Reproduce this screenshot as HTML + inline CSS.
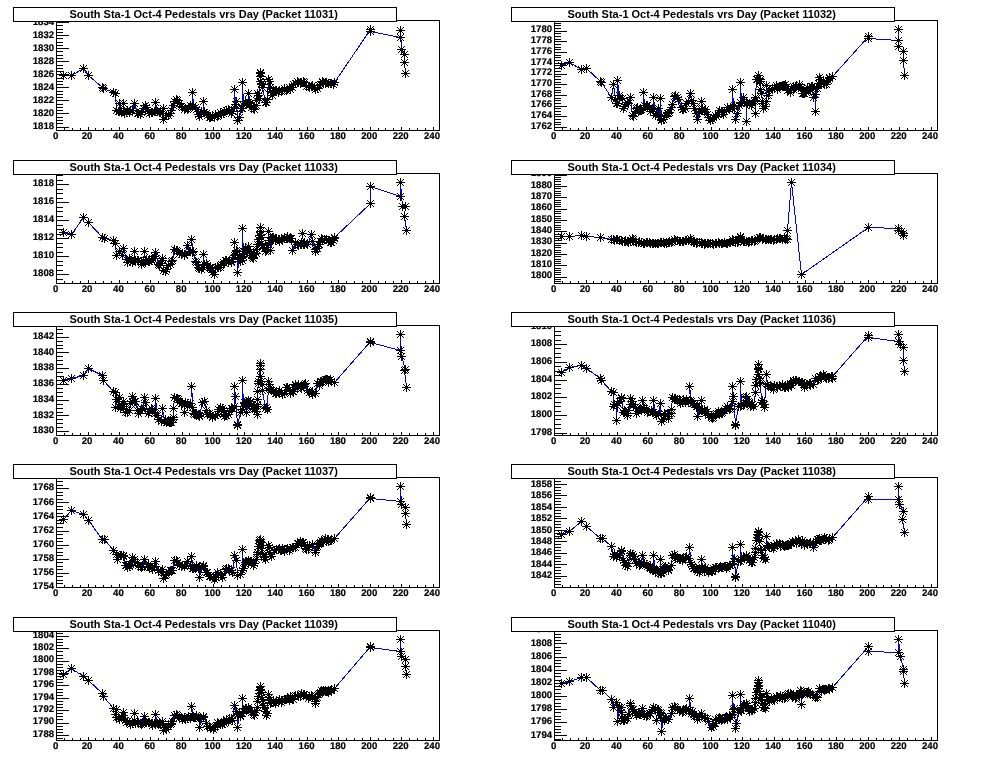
<!DOCTYPE html>
<html lang="en"><head><meta charset="utf-8"><title>South Sta-1 Oct-4 Pedestals vrs Day</title>
<style>
html,body{margin:0;padding:0;background:#fff;}
body{width:996px;height:762px;overflow:hidden;}
svg{display:block;will-change:transform;}
text{font-family:"Liberation Sans",Arial,Helvetica,sans-serif;font-weight:bold;fill:#000;}
.l{font-size:9.6px;text-rendering:geometricPrecision;stroke:#000;stroke-width:0.2px;}
.t{font-size:11.0px;}
</style></head><body>
<svg width="996" height="762" viewBox="0 0 996 762">
<defs><path id="m" d="M-4.5 -0.5h9v1h-9zM-0.5 -4.5h1v9h-1zM-1.5 -1.5h1v1h-1zM-1.5 0.5h1v1h-1zM0.5 -1.5h1v1h-1zM0.5 0.5h1v1h-1zM-2.5 -2.5h1v1h-1zM-2.5 1.5h1v1h-1zM1.5 -2.5h1v1h-1zM1.5 1.5h1v1h-1zM-3.5 -3.5h1v1h-1zM-3.5 2.5h1v1h-1zM2.5 -3.5h1v1h-1zM2.5 2.5h1v1h-1z" fill="#000" shape-rendering="crispEdges"/></defs>
<g><rect x="56.5" y="20.5" width="383" height="110" fill="none" stroke="#000" stroke-width="1"/><path d="M56.5 130.5V127M64.5 130.5V128M72.5 130.5V128M80.5 130.5V128M88.5 130.5V127M95.5 130.5V128M103.5 130.5V128M111.5 130.5V128M119.5 130.5V127M127.5 130.5V128M135.5 130.5V128M142.5 130.5V128M150.5 130.5V127M158.5 130.5V128M166.5 130.5V128M174.5 130.5V128M182.5 130.5V127M189.5 130.5V128M197.5 130.5V128M205.5 130.5V128M213.5 130.5V127M221.5 130.5V128M229.5 130.5V128M237.5 130.5V128M244.5 130.5V127M252.5 130.5V128M260.5 130.5V128M268.5 130.5V128M276.5 130.5V127M284.5 130.5V128M291.5 130.5V128M299.5 130.5V128M307.5 130.5V127M315.5 130.5V128M323.5 130.5V128M331.5 130.5V128M338.5 130.5V127M346.5 130.5V128M354.5 130.5V128M362.5 130.5V128M370.5 130.5V127M378.5 130.5V128M385.5 130.5V128M393.5 130.5V128M401.5 130.5V127M409.5 130.5V128M417.5 130.5V128M425.5 130.5V128M433.5 130.5V127M56.5 130.5H63M56.5 127.5H69M56.5 123.5H63M56.5 120.5H63M56.5 117.5H63M56.5 113.5H69M56.5 110.5H63M56.5 107.5H63M56.5 104.5H63M56.5 100.5H69M56.5 97.5H63M56.5 94.5H63M56.5 91.5H63M56.5 87.5H69M56.5 84.5H63M56.5 81.5H63M56.5 78.5H63M56.5 74.5H69M56.5 71.5H63M56.5 68.5H63M56.5 65.5H63M56.5 61.5H69M56.5 58.5H63M56.5 55.5H63M56.5 51.5H63M56.5 48.5H69M56.5 45.5H63M56.5 42.5H63M56.5 38.5H63M56.5 35.5H69M56.5 32.5H63M56.5 29.5H63M56.5 25.5H63M56.5 22.5H69" stroke="#000" stroke-width="1" fill="none"/><text x="54.1" y="129" text-anchor="end" class="l">1818</text><text x="54.1" y="116" text-anchor="end" class="l">1820</text><text x="54.1" y="103" text-anchor="end" class="l">1822</text><text x="54.1" y="90" text-anchor="end" class="l">1824</text><text x="54.1" y="77" text-anchor="end" class="l">1826</text><text x="54.1" y="64" text-anchor="end" class="l">1828</text><text x="54.1" y="51" text-anchor="end" class="l">1830</text><text x="54.1" y="38" text-anchor="end" class="l">1832</text><text x="54.1" y="25" text-anchor="end" class="l">1834</text><text x="55.7" y="139" text-anchor="middle" class="l">0</text><text x="87.06" y="139" text-anchor="middle" class="l">20</text><text x="118.42" y="139" text-anchor="middle" class="l">40</text><text x="149.78" y="139" text-anchor="middle" class="l">60</text><text x="181.14" y="139" text-anchor="middle" class="l">80</text><text x="212.5" y="139" text-anchor="middle" class="l">100</text><text x="243.86" y="139" text-anchor="middle" class="l">120</text><text x="275.22" y="139" text-anchor="middle" class="l">140</text><text x="306.58" y="139" text-anchor="middle" class="l">160</text><text x="337.94" y="139" text-anchor="middle" class="l">180</text><text x="369.3" y="139" text-anchor="middle" class="l">200</text><text x="400.66" y="139" text-anchor="middle" class="l">220</text><text x="432.02" y="139" text-anchor="middle" class="l">240</text><polyline points="63.5,75.5 71.5,75.5 83.5,68.5 88.5,75.5 102.5,87.5 103.5,88.5 113.5,92.5 115.5,93.5 116.5,110.5 118.5,111.5 119.5,111.5 119.5,103.5 121.5,111.5 121.5,111.5 123.5,111.5 123.5,103.5 124.5,113.5 126.5,112.5 127.5,110.5 129.5,112.5 130.5,110.5 132.5,110.5 134.5,103.5 137.5,113.5 138.5,113.5 140.5,114.5 141.5,112.5 143.5,108.5 145.5,105.5 146.5,107.5 148.5,111.5 149.5,113.5 151.5,112.5 152.5,112.5 154.5,111.5 155.5,111.5 155.5,102.5 157.5,111.5 159.5,112.5 160.5,111.5 162.5,113.5 163.5,108.5 163.5,119.5 166.5,115.5 168.5,115.5 170.5,113.5 171.5,110.5 173.5,105.5 174.5,101.5 176.5,99.5 177.5,100.5 179.5,103.5 181.5,106.5 182.5,107.5 184.5,109.5 185.5,108.5 187.5,109.5 188.5,108.5 190.5,105.5 192.5,106.5 192.5,92.5 193.5,105.5 195.5,107.5 196.5,109.5 198.5,114.5 199.5,116.5 201.5,111.5 203.5,112.5 203.5,101.5 204.5,112.5 206.5,113.5 207.5,115.5 209.5,117.5 210.5,117.5 212.5,115.5 214.5,117.5 215.5,114.5 217.5,116.5 218.5,115.5 220.5,112.5 221.5,114.5 223.5,113.5 224.5,111.5 226.5,110.5 228.5,109.5 229.5,110.5 231.5,113.5 232.5,111.5 234.5,107.5 234.5,89.5 235.5,104.5 236.5,101.5 237.5,120.5 239.5,117.5 241.5,108.5 242.5,108.5 242.5,82.5 243.5,105.5 245.5,101.5 246.5,103.5 248.5,102.5 248.5,93.5 250.5,103.5 249.5,103.5 251.5,107.5 253.5,108.5 253.5,108.5 254.5,109.5 256.5,105.5 256.5,100.5 257.5,93.5 258.5,95.5 259.5,98.5 260.5,72.5 260.5,73.5 260.5,76.5 260.5,81.5 261.5,83.5 261.5,84.5 262.5,87.5 265.5,102.5 266.5,102.5 267.5,99.5 268.5,79.5 269.5,81.5 270.5,87.5 270.5,91.5 272.5,95.5 272.5,92.5 273.5,90.5 275.5,90.5 276.5,90.5 278.5,92.5 279.5,90.5 281.5,91.5 282.5,90.5 284.5,88.5 286.5,90.5 287.5,89.5 289.5,87.5 290.5,89.5 292.5,87.5 293.5,84.5 295.5,83.5 297.5,81.5 298.5,82.5 300.5,83.5 301.5,82.5 303.5,81.5 304.5,82.5 306.5,86.5 308.5,86.5 309.5,87.5 311.5,86.5 312.5,85.5 314.5,87.5 315.5,89.5 317.5,88.5 319.5,85.5 320.5,84.5 322.5,82.5 322.5,81.5 323.5,82.5 325.5,83.5 326.5,82.5 328.5,83.5 330.5,83.5 331.5,83.5 333.5,84.5 334.5,82.5 334.5,82.5 370.5,29.5 370.5,31.5 400.5,37.5 400.5,30.5 401.5,49.5 404.5,54.5 404.5,62.5 405.5,73.5" fill="none" stroke="#00f" stroke-width="1" shape-rendering="crispEdges"/><use href="#m" x="63.5" y="75.5"/><use href="#m" x="71.5" y="75.5"/><use href="#m" x="83.5" y="68.5"/><use href="#m" x="88.5" y="75.5"/><use href="#m" x="102.5" y="87.5"/><use href="#m" x="103.5" y="88.5"/><use href="#m" x="113.5" y="92.5"/><use href="#m" x="115.5" y="93.5"/><use href="#m" x="116.5" y="110.5"/><use href="#m" x="118.5" y="111.5"/><use href="#m" x="119.5" y="111.5"/><use href="#m" x="119.5" y="103.5"/><use href="#m" x="121.5" y="111.5"/><use href="#m" x="121.5" y="111.5"/><use href="#m" x="123.5" y="111.5"/><use href="#m" x="123.5" y="103.5"/><use href="#m" x="124.5" y="113.5"/><use href="#m" x="126.5" y="112.5"/><use href="#m" x="127.5" y="110.5"/><use href="#m" x="129.5" y="112.5"/><use href="#m" x="130.5" y="110.5"/><use href="#m" x="132.5" y="110.5"/><use href="#m" x="134.5" y="103.5"/><use href="#m" x="137.5" y="113.5"/><use href="#m" x="138.5" y="113.5"/><use href="#m" x="140.5" y="114.5"/><use href="#m" x="141.5" y="112.5"/><use href="#m" x="143.5" y="108.5"/><use href="#m" x="145.5" y="105.5"/><use href="#m" x="146.5" y="107.5"/><use href="#m" x="148.5" y="111.5"/><use href="#m" x="149.5" y="113.5"/><use href="#m" x="151.5" y="112.5"/><use href="#m" x="152.5" y="112.5"/><use href="#m" x="154.5" y="111.5"/><use href="#m" x="155.5" y="111.5"/><use href="#m" x="155.5" y="102.5"/><use href="#m" x="157.5" y="111.5"/><use href="#m" x="159.5" y="112.5"/><use href="#m" x="160.5" y="111.5"/><use href="#m" x="162.5" y="113.5"/><use href="#m" x="163.5" y="108.5"/><use href="#m" x="163.5" y="119.5"/><use href="#m" x="166.5" y="115.5"/><use href="#m" x="168.5" y="115.5"/><use href="#m" x="170.5" y="113.5"/><use href="#m" x="171.5" y="110.5"/><use href="#m" x="173.5" y="105.5"/><use href="#m" x="174.5" y="101.5"/><use href="#m" x="176.5" y="99.5"/><use href="#m" x="177.5" y="100.5"/><use href="#m" x="179.5" y="103.5"/><use href="#m" x="181.5" y="106.5"/><use href="#m" x="182.5" y="107.5"/><use href="#m" x="184.5" y="109.5"/><use href="#m" x="185.5" y="108.5"/><use href="#m" x="187.5" y="109.5"/><use href="#m" x="188.5" y="108.5"/><use href="#m" x="190.5" y="105.5"/><use href="#m" x="192.5" y="106.5"/><use href="#m" x="192.5" y="92.5"/><use href="#m" x="193.5" y="105.5"/><use href="#m" x="195.5" y="107.5"/><use href="#m" x="196.5" y="109.5"/><use href="#m" x="198.5" y="114.5"/><use href="#m" x="199.5" y="116.5"/><use href="#m" x="201.5" y="111.5"/><use href="#m" x="203.5" y="112.5"/><use href="#m" x="203.5" y="101.5"/><use href="#m" x="204.5" y="112.5"/><use href="#m" x="206.5" y="113.5"/><use href="#m" x="207.5" y="115.5"/><use href="#m" x="209.5" y="117.5"/><use href="#m" x="210.5" y="117.5"/><use href="#m" x="212.5" y="115.5"/><use href="#m" x="214.5" y="117.5"/><use href="#m" x="215.5" y="114.5"/><use href="#m" x="217.5" y="116.5"/><use href="#m" x="218.5" y="115.5"/><use href="#m" x="220.5" y="112.5"/><use href="#m" x="221.5" y="114.5"/><use href="#m" x="223.5" y="113.5"/><use href="#m" x="224.5" y="111.5"/><use href="#m" x="226.5" y="110.5"/><use href="#m" x="228.5" y="109.5"/><use href="#m" x="229.5" y="110.5"/><use href="#m" x="231.5" y="113.5"/><use href="#m" x="232.5" y="111.5"/><use href="#m" x="234.5" y="107.5"/><use href="#m" x="234.5" y="89.5"/><use href="#m" x="235.5" y="104.5"/><use href="#m" x="236.5" y="101.5"/><use href="#m" x="237.5" y="120.5"/><use href="#m" x="239.5" y="117.5"/><use href="#m" x="241.5" y="108.5"/><use href="#m" x="242.5" y="108.5"/><use href="#m" x="242.5" y="82.5"/><use href="#m" x="243.5" y="105.5"/><use href="#m" x="245.5" y="101.5"/><use href="#m" x="246.5" y="103.5"/><use href="#m" x="248.5" y="102.5"/><use href="#m" x="248.5" y="93.5"/><use href="#m" x="250.5" y="103.5"/><use href="#m" x="249.5" y="103.5"/><use href="#m" x="251.5" y="107.5"/><use href="#m" x="253.5" y="108.5"/><use href="#m" x="253.5" y="108.5"/><use href="#m" x="254.5" y="109.5"/><use href="#m" x="256.5" y="105.5"/><use href="#m" x="256.5" y="100.5"/><use href="#m" x="257.5" y="93.5"/><use href="#m" x="258.5" y="95.5"/><use href="#m" x="259.5" y="98.5"/><use href="#m" x="260.5" y="72.5"/><use href="#m" x="260.5" y="73.5"/><use href="#m" x="260.5" y="76.5"/><use href="#m" x="260.5" y="81.5"/><use href="#m" x="261.5" y="83.5"/><use href="#m" x="261.5" y="84.5"/><use href="#m" x="262.5" y="87.5"/><use href="#m" x="265.5" y="102.5"/><use href="#m" x="266.5" y="102.5"/><use href="#m" x="267.5" y="99.5"/><use href="#m" x="268.5" y="79.5"/><use href="#m" x="269.5" y="81.5"/><use href="#m" x="270.5" y="87.5"/><use href="#m" x="270.5" y="91.5"/><use href="#m" x="272.5" y="95.5"/><use href="#m" x="272.5" y="92.5"/><use href="#m" x="273.5" y="90.5"/><use href="#m" x="275.5" y="90.5"/><use href="#m" x="276.5" y="90.5"/><use href="#m" x="278.5" y="92.5"/><use href="#m" x="279.5" y="90.5"/><use href="#m" x="281.5" y="91.5"/><use href="#m" x="282.5" y="90.5"/><use href="#m" x="284.5" y="88.5"/><use href="#m" x="286.5" y="90.5"/><use href="#m" x="287.5" y="89.5"/><use href="#m" x="289.5" y="87.5"/><use href="#m" x="290.5" y="89.5"/><use href="#m" x="292.5" y="87.5"/><use href="#m" x="293.5" y="84.5"/><use href="#m" x="295.5" y="83.5"/><use href="#m" x="297.5" y="81.5"/><use href="#m" x="298.5" y="82.5"/><use href="#m" x="300.5" y="83.5"/><use href="#m" x="301.5" y="82.5"/><use href="#m" x="303.5" y="81.5"/><use href="#m" x="304.5" y="82.5"/><use href="#m" x="306.5" y="86.5"/><use href="#m" x="308.5" y="86.5"/><use href="#m" x="309.5" y="87.5"/><use href="#m" x="311.5" y="86.5"/><use href="#m" x="312.5" y="85.5"/><use href="#m" x="314.5" y="87.5"/><use href="#m" x="315.5" y="89.5"/><use href="#m" x="317.5" y="88.5"/><use href="#m" x="319.5" y="85.5"/><use href="#m" x="320.5" y="84.5"/><use href="#m" x="322.5" y="82.5"/><use href="#m" x="322.5" y="81.5"/><use href="#m" x="323.5" y="82.5"/><use href="#m" x="325.5" y="83.5"/><use href="#m" x="326.5" y="82.5"/><use href="#m" x="328.5" y="83.5"/><use href="#m" x="330.5" y="83.5"/><use href="#m" x="331.5" y="83.5"/><use href="#m" x="333.5" y="84.5"/><use href="#m" x="334.5" y="82.5"/><use href="#m" x="334.5" y="82.5"/><use href="#m" x="370.5" y="29.5"/><use href="#m" x="370.5" y="31.5"/><use href="#m" x="400.5" y="37.5"/><use href="#m" x="400.5" y="30.5"/><use href="#m" x="401.5" y="49.5"/><use href="#m" x="404.5" y="54.5"/><use href="#m" x="404.5" y="62.5"/><use href="#m" x="405.5" y="73.5"/><rect x="13.5" y="7.5" width="383" height="14" fill="#fff" stroke="#000" stroke-width="1"/><text x="203.6" y="17.95" text-anchor="middle" class="t">South Sta-1 Oct-4 Pedestals vrs Day (Packet 11031)</text></g>
<g><rect x="554.5" y="20.5" width="383" height="110" fill="none" stroke="#000" stroke-width="1"/><path d="M554.5 130.5V127M562.5 130.5V128M570.5 130.5V128M578.5 130.5V128M586.5 130.5V127M593.5 130.5V128M601.5 130.5V128M609.5 130.5V128M617.5 130.5V127M625.5 130.5V128M633.5 130.5V128M640.5 130.5V128M648.5 130.5V127M656.5 130.5V128M664.5 130.5V128M672.5 130.5V128M680.5 130.5V127M687.5 130.5V128M695.5 130.5V128M703.5 130.5V128M711.5 130.5V127M719.5 130.5V128M727.5 130.5V128M735.5 130.5V128M742.5 130.5V127M750.5 130.5V128M758.5 130.5V128M766.5 130.5V128M774.5 130.5V127M782.5 130.5V128M789.5 130.5V128M797.5 130.5V128M805.5 130.5V127M813.5 130.5V128M821.5 130.5V128M829.5 130.5V128M836.5 130.5V127M844.5 130.5V128M852.5 130.5V128M860.5 130.5V128M868.5 130.5V127M876.5 130.5V128M883.5 130.5V128M891.5 130.5V128M899.5 130.5V127M907.5 130.5V128M915.5 130.5V128M923.5 130.5V128M931.5 130.5V127M554.5 130.5H561M554.5 127.5H567M554.5 124.5H561M554.5 122.5H561M554.5 119.5H561M554.5 116.5H567M554.5 114.5H561M554.5 111.5H561M554.5 108.5H561M554.5 106.5H567M554.5 103.5H561M554.5 100.5H561M554.5 98.5H561M554.5 95.5H567M554.5 92.5H561M554.5 90.5H561M554.5 87.5H561M554.5 84.5H567M554.5 82.5H561M554.5 79.5H561M554.5 76.5H561M554.5 74.5H567M554.5 71.5H561M554.5 68.5H561M554.5 65.5H561M554.5 63.5H567M554.5 60.5H561M554.5 57.5H561M554.5 55.5H561M554.5 52.5H567M554.5 49.5H561M554.5 47.5H561M554.5 44.5H561M554.5 41.5H567M554.5 39.5H561M554.5 36.5H561M554.5 33.5H561M554.5 31.5H567M554.5 28.5H561M554.5 25.5H561M554.5 23.5H561M554.5 20.5H567" stroke="#000" stroke-width="1" fill="none"/><text x="552.1" y="129" text-anchor="end" class="l">1762</text><text x="552.1" y="118" text-anchor="end" class="l">1764</text><text x="552.1" y="107" text-anchor="end" class="l">1766</text><text x="552.1" y="97" text-anchor="end" class="l">1768</text><text x="552.1" y="86" text-anchor="end" class="l">1770</text><text x="552.1" y="75" text-anchor="end" class="l">1772</text><text x="552.1" y="65" text-anchor="end" class="l">1774</text><text x="552.1" y="54" text-anchor="end" class="l">1776</text><text x="552.1" y="43" text-anchor="end" class="l">1778</text><text x="552.1" y="32" text-anchor="end" class="l">1780</text><text x="553.7" y="139" text-anchor="middle" class="l">0</text><text x="585.06" y="139" text-anchor="middle" class="l">20</text><text x="616.42" y="139" text-anchor="middle" class="l">40</text><text x="647.78" y="139" text-anchor="middle" class="l">60</text><text x="679.14" y="139" text-anchor="middle" class="l">80</text><text x="710.5" y="139" text-anchor="middle" class="l">100</text><text x="741.86" y="139" text-anchor="middle" class="l">120</text><text x="773.22" y="139" text-anchor="middle" class="l">140</text><text x="804.58" y="139" text-anchor="middle" class="l">160</text><text x="835.94" y="139" text-anchor="middle" class="l">180</text><text x="867.3" y="139" text-anchor="middle" class="l">200</text><text x="898.66" y="139" text-anchor="middle" class="l">220</text><text x="930.02" y="139" text-anchor="middle" class="l">240</text><polyline points="561.5,65.5 569.5,62.5 581.5,69.5 586.5,68.5 600.5,81.5 601.5,82.5 611.5,97.5 613.5,84.5 615.5,99.5 616.5,103.5 617.5,103.5 617.5,80.5 619.5,98.5 619.5,95.5 622.5,98.5 623.5,108.5 624.5,106.5 625.5,104.5 627.5,102.5 628.5,103.5 630.5,97.5 632.5,115.5 633.5,116.5 635.5,111.5 636.5,108.5 637.5,107.5 638.5,111.5 639.5,110.5 640.5,110.5 641.5,109.5 643.5,108.5 643.5,92.5 644.5,105.5 646.5,105.5 647.5,105.5 649.5,108.5 650.5,111.5 652.5,108.5 653.5,109.5 653.5,97.5 655.5,115.5 656.5,113.5 658.5,108.5 660.5,116.5 660.5,98.5 661.5,120.5 661.5,119.5 663.5,119.5 664.5,116.5 666.5,115.5 667.5,113.5 668.5,113.5 669.5,112.5 671.5,107.5 672.5,104.5 674.5,96.5 675.5,95.5 677.5,97.5 678.5,99.5 681.5,107.5 682.5,109.5 683.5,109.5 685.5,108.5 686.5,103.5 688.5,101.5 690.5,93.5 691.5,100.5 693.5,103.5 694.5,108.5 696.5,113.5 697.5,119.5 699.5,111.5 701.5,109.5 701.5,101.5 702.5,108.5 704.5,111.5 705.5,109.5 707.5,114.5 708.5,117.5 710.5,120.5 712.5,119.5 713.5,117.5 715.5,115.5 716.5,116.5 718.5,114.5 719.5,110.5 721.5,111.5 722.5,112.5 723.5,114.5 724.5,111.5 726.5,110.5 727.5,107.5 729.5,109.5 730.5,107.5 732.5,108.5 732.5,89.5 733.5,106.5 734.5,105.5 735.5,119.5 737.5,113.5 739.5,105.5 740.5,102.5 740.5,82.5 741.5,103.5 743.5,97.5 744.5,102.5 746.5,103.5 746.5,121.5 746.5,102.5 747.5,103.5 749.5,104.5 751.5,105.5 752.5,103.5 754.5,101.5 755.5,100.5 755.5,113.5 755.5,97.5 756.5,79.5 757.5,79.5 758.5,75.5 759.5,81.5 760.5,79.5 760.5,81.5 760.5,89.5 761.5,93.5 762.5,101.5 762.5,103.5 763.5,108.5 765.5,106.5 766.5,101.5 766.5,85.5 768.5,95.5 768.5,95.5 769.5,90.5 772.5,88.5 774.5,88.5 776.5,85.5 777.5,89.5 779.5,87.5 780.5,86.5 782.5,85.5 784.5,85.5 783.5,85.5 785.5,84.5 787.5,90.5 788.5,89.5 790.5,92.5 791.5,88.5 793.5,89.5 793.5,86.5 795.5,86.5 796.5,86.5 798.5,87.5 799.5,84.5 799.5,86.5 801.5,88.5 802.5,93.5 803.5,93.5 804.5,93.5 806.5,92.5 807.5,87.5 809.5,89.5 810.5,89.5 812.5,86.5 811.5,86.5 813.5,97.5 813.5,97.5 815.5,94.5 815.5,111.5 816.5,87.5 817.5,88.5 818.5,83.5 820.5,79.5 819.5,77.5 821.5,83.5 823.5,83.5 824.5,84.5 826.5,84.5 826.5,81.5 828.5,80.5 829.5,78.5 829.5,77.5 832.5,76.5 868.5,36.5 868.5,38.5 898.5,40.5 898.5,29.5 898.5,46.5 903.5,51.5 903.5,60.5 904.5,75.5" fill="none" stroke="#00f" stroke-width="1" shape-rendering="crispEdges"/><use href="#m" x="561.5" y="65.5"/><use href="#m" x="569.5" y="62.5"/><use href="#m" x="581.5" y="69.5"/><use href="#m" x="586.5" y="68.5"/><use href="#m" x="600.5" y="81.5"/><use href="#m" x="601.5" y="82.5"/><use href="#m" x="611.5" y="97.5"/><use href="#m" x="613.5" y="84.5"/><use href="#m" x="615.5" y="99.5"/><use href="#m" x="616.5" y="103.5"/><use href="#m" x="617.5" y="103.5"/><use href="#m" x="617.5" y="80.5"/><use href="#m" x="619.5" y="98.5"/><use href="#m" x="619.5" y="95.5"/><use href="#m" x="622.5" y="98.5"/><use href="#m" x="623.5" y="108.5"/><use href="#m" x="624.5" y="106.5"/><use href="#m" x="625.5" y="104.5"/><use href="#m" x="627.5" y="102.5"/><use href="#m" x="628.5" y="103.5"/><use href="#m" x="630.5" y="97.5"/><use href="#m" x="632.5" y="115.5"/><use href="#m" x="633.5" y="116.5"/><use href="#m" x="635.5" y="111.5"/><use href="#m" x="636.5" y="108.5"/><use href="#m" x="637.5" y="107.5"/><use href="#m" x="638.5" y="111.5"/><use href="#m" x="639.5" y="110.5"/><use href="#m" x="640.5" y="110.5"/><use href="#m" x="641.5" y="109.5"/><use href="#m" x="643.5" y="108.5"/><use href="#m" x="643.5" y="92.5"/><use href="#m" x="644.5" y="105.5"/><use href="#m" x="646.5" y="105.5"/><use href="#m" x="647.5" y="105.5"/><use href="#m" x="649.5" y="108.5"/><use href="#m" x="650.5" y="111.5"/><use href="#m" x="652.5" y="108.5"/><use href="#m" x="653.5" y="109.5"/><use href="#m" x="653.5" y="97.5"/><use href="#m" x="655.5" y="115.5"/><use href="#m" x="656.5" y="113.5"/><use href="#m" x="658.5" y="108.5"/><use href="#m" x="660.5" y="116.5"/><use href="#m" x="660.5" y="98.5"/><use href="#m" x="661.5" y="120.5"/><use href="#m" x="661.5" y="119.5"/><use href="#m" x="663.5" y="119.5"/><use href="#m" x="664.5" y="116.5"/><use href="#m" x="666.5" y="115.5"/><use href="#m" x="667.5" y="113.5"/><use href="#m" x="668.5" y="113.5"/><use href="#m" x="669.5" y="112.5"/><use href="#m" x="671.5" y="107.5"/><use href="#m" x="672.5" y="104.5"/><use href="#m" x="674.5" y="96.5"/><use href="#m" x="675.5" y="95.5"/><use href="#m" x="677.5" y="97.5"/><use href="#m" x="678.5" y="99.5"/><use href="#m" x="681.5" y="107.5"/><use href="#m" x="682.5" y="109.5"/><use href="#m" x="683.5" y="109.5"/><use href="#m" x="685.5" y="108.5"/><use href="#m" x="686.5" y="103.5"/><use href="#m" x="688.5" y="101.5"/><use href="#m" x="690.5" y="93.5"/><use href="#m" x="691.5" y="100.5"/><use href="#m" x="693.5" y="103.5"/><use href="#m" x="694.5" y="108.5"/><use href="#m" x="696.5" y="113.5"/><use href="#m" x="697.5" y="119.5"/><use href="#m" x="699.5" y="111.5"/><use href="#m" x="701.5" y="109.5"/><use href="#m" x="701.5" y="101.5"/><use href="#m" x="702.5" y="108.5"/><use href="#m" x="704.5" y="111.5"/><use href="#m" x="705.5" y="109.5"/><use href="#m" x="707.5" y="114.5"/><use href="#m" x="708.5" y="117.5"/><use href="#m" x="710.5" y="120.5"/><use href="#m" x="712.5" y="119.5"/><use href="#m" x="713.5" y="117.5"/><use href="#m" x="715.5" y="115.5"/><use href="#m" x="716.5" y="116.5"/><use href="#m" x="718.5" y="114.5"/><use href="#m" x="719.5" y="110.5"/><use href="#m" x="721.5" y="111.5"/><use href="#m" x="722.5" y="112.5"/><use href="#m" x="723.5" y="114.5"/><use href="#m" x="724.5" y="111.5"/><use href="#m" x="726.5" y="110.5"/><use href="#m" x="727.5" y="107.5"/><use href="#m" x="729.5" y="109.5"/><use href="#m" x="730.5" y="107.5"/><use href="#m" x="732.5" y="108.5"/><use href="#m" x="732.5" y="89.5"/><use href="#m" x="733.5" y="106.5"/><use href="#m" x="734.5" y="105.5"/><use href="#m" x="735.5" y="119.5"/><use href="#m" x="737.5" y="113.5"/><use href="#m" x="739.5" y="105.5"/><use href="#m" x="740.5" y="102.5"/><use href="#m" x="740.5" y="82.5"/><use href="#m" x="741.5" y="103.5"/><use href="#m" x="743.5" y="97.5"/><use href="#m" x="744.5" y="102.5"/><use href="#m" x="746.5" y="103.5"/><use href="#m" x="746.5" y="121.5"/><use href="#m" x="746.5" y="102.5"/><use href="#m" x="747.5" y="103.5"/><use href="#m" x="749.5" y="104.5"/><use href="#m" x="751.5" y="105.5"/><use href="#m" x="752.5" y="103.5"/><use href="#m" x="754.5" y="101.5"/><use href="#m" x="755.5" y="100.5"/><use href="#m" x="755.5" y="113.5"/><use href="#m" x="755.5" y="97.5"/><use href="#m" x="756.5" y="79.5"/><use href="#m" x="757.5" y="79.5"/><use href="#m" x="758.5" y="75.5"/><use href="#m" x="759.5" y="81.5"/><use href="#m" x="760.5" y="79.5"/><use href="#m" x="760.5" y="81.5"/><use href="#m" x="760.5" y="89.5"/><use href="#m" x="761.5" y="93.5"/><use href="#m" x="762.5" y="101.5"/><use href="#m" x="762.5" y="103.5"/><use href="#m" x="763.5" y="108.5"/><use href="#m" x="765.5" y="106.5"/><use href="#m" x="766.5" y="101.5"/><use href="#m" x="766.5" y="85.5"/><use href="#m" x="768.5" y="95.5"/><use href="#m" x="768.5" y="95.5"/><use href="#m" x="769.5" y="90.5"/><use href="#m" x="772.5" y="88.5"/><use href="#m" x="774.5" y="88.5"/><use href="#m" x="776.5" y="85.5"/><use href="#m" x="777.5" y="89.5"/><use href="#m" x="779.5" y="87.5"/><use href="#m" x="780.5" y="86.5"/><use href="#m" x="782.5" y="85.5"/><use href="#m" x="784.5" y="85.5"/><use href="#m" x="783.5" y="85.5"/><use href="#m" x="785.5" y="84.5"/><use href="#m" x="787.5" y="90.5"/><use href="#m" x="788.5" y="89.5"/><use href="#m" x="790.5" y="92.5"/><use href="#m" x="791.5" y="88.5"/><use href="#m" x="793.5" y="89.5"/><use href="#m" x="793.5" y="86.5"/><use href="#m" x="795.5" y="86.5"/><use href="#m" x="796.5" y="86.5"/><use href="#m" x="798.5" y="87.5"/><use href="#m" x="799.5" y="84.5"/><use href="#m" x="799.5" y="86.5"/><use href="#m" x="801.5" y="88.5"/><use href="#m" x="802.5" y="93.5"/><use href="#m" x="803.5" y="93.5"/><use href="#m" x="804.5" y="93.5"/><use href="#m" x="806.5" y="92.5"/><use href="#m" x="807.5" y="87.5"/><use href="#m" x="809.5" y="89.5"/><use href="#m" x="810.5" y="89.5"/><use href="#m" x="812.5" y="86.5"/><use href="#m" x="811.5" y="86.5"/><use href="#m" x="813.5" y="97.5"/><use href="#m" x="813.5" y="97.5"/><use href="#m" x="815.5" y="94.5"/><use href="#m" x="815.5" y="111.5"/><use href="#m" x="816.5" y="87.5"/><use href="#m" x="817.5" y="88.5"/><use href="#m" x="818.5" y="83.5"/><use href="#m" x="820.5" y="79.5"/><use href="#m" x="819.5" y="77.5"/><use href="#m" x="821.5" y="83.5"/><use href="#m" x="823.5" y="83.5"/><use href="#m" x="824.5" y="84.5"/><use href="#m" x="826.5" y="84.5"/><use href="#m" x="826.5" y="81.5"/><use href="#m" x="828.5" y="80.5"/><use href="#m" x="829.5" y="78.5"/><use href="#m" x="829.5" y="77.5"/><use href="#m" x="832.5" y="76.5"/><use href="#m" x="868.5" y="36.5"/><use href="#m" x="868.5" y="38.5"/><use href="#m" x="898.5" y="40.5"/><use href="#m" x="898.5" y="29.5"/><use href="#m" x="898.5" y="46.5"/><use href="#m" x="903.5" y="51.5"/><use href="#m" x="903.5" y="60.5"/><use href="#m" x="904.5" y="75.5"/><rect x="511.5" y="7.5" width="383" height="14" fill="#fff" stroke="#000" stroke-width="1"/><text x="701.6" y="17.95" text-anchor="middle" class="t">South Sta-1 Oct-4 Pedestals vrs Day (Packet 11032)</text></g>
<g><rect x="56.5" y="173.5" width="383" height="110" fill="none" stroke="#000" stroke-width="1"/><path d="M56.5 283.5V280M64.5 283.5V281M72.5 283.5V281M80.5 283.5V281M88.5 283.5V280M95.5 283.5V281M103.5 283.5V281M111.5 283.5V281M119.5 283.5V280M127.5 283.5V281M135.5 283.5V281M142.5 283.5V281M150.5 283.5V280M158.5 283.5V281M166.5 283.5V281M174.5 283.5V281M182.5 283.5V280M189.5 283.5V281M197.5 283.5V281M205.5 283.5V281M213.5 283.5V280M221.5 283.5V281M229.5 283.5V281M237.5 283.5V281M244.5 283.5V280M252.5 283.5V281M260.5 283.5V281M268.5 283.5V281M276.5 283.5V280M284.5 283.5V281M291.5 283.5V281M299.5 283.5V281M307.5 283.5V280M315.5 283.5V281M323.5 283.5V281M331.5 283.5V281M338.5 283.5V280M346.5 283.5V281M354.5 283.5V281M362.5 283.5V281M370.5 283.5V280M378.5 283.5V281M385.5 283.5V281M393.5 283.5V281M401.5 283.5V280M409.5 283.5V281M417.5 283.5V281M425.5 283.5V281M433.5 283.5V280M56.5 279.5H63M56.5 274.5H69M56.5 270.5H63M56.5 265.5H63M56.5 261.5H63M56.5 256.5H69M56.5 252.5H63M56.5 247.5H63M56.5 243.5H63M56.5 238.5H69M56.5 234.5H63M56.5 229.5H63M56.5 225.5H63M56.5 220.5H69M56.5 216.5H63M56.5 211.5H63M56.5 207.5H63M56.5 202.5H69M56.5 198.5H63M56.5 193.5H63M56.5 189.5H63M56.5 184.5H69M56.5 180.5H63M56.5 175.5H63" stroke="#000" stroke-width="1" fill="none"/><text x="54.1" y="276" text-anchor="end" class="l">1808</text><text x="54.1" y="258" text-anchor="end" class="l">1810</text><text x="54.1" y="240" text-anchor="end" class="l">1812</text><text x="54.1" y="222" text-anchor="end" class="l">1814</text><text x="54.1" y="204" text-anchor="end" class="l">1816</text><text x="54.1" y="186" text-anchor="end" class="l">1818</text><text x="55.7" y="292" text-anchor="middle" class="l">0</text><text x="87.06" y="292" text-anchor="middle" class="l">20</text><text x="118.42" y="292" text-anchor="middle" class="l">40</text><text x="149.78" y="292" text-anchor="middle" class="l">60</text><text x="181.14" y="292" text-anchor="middle" class="l">80</text><text x="212.5" y="292" text-anchor="middle" class="l">100</text><text x="243.86" y="292" text-anchor="middle" class="l">120</text><text x="275.22" y="292" text-anchor="middle" class="l">140</text><text x="306.58" y="292" text-anchor="middle" class="l">160</text><text x="337.94" y="292" text-anchor="middle" class="l">180</text><text x="369.3" y="292" text-anchor="middle" class="l">200</text><text x="400.66" y="292" text-anchor="middle" class="l">220</text><text x="432.02" y="292" text-anchor="middle" class="l">240</text><polyline points="63.5,232.5 71.5,234.5 83.5,217.5 88.5,222.5 102.5,237.5 104.5,238.5 113.5,240.5 115.5,243.5 116.5,255.5 119.5,251.5 122.5,255.5 123.5,248.5 126.5,259.5 127.5,262.5 129.5,258.5 130.5,260.5 130.5,261.5 132.5,262.5 134.5,260.5 134.5,251.5 135.5,260.5 137.5,260.5 138.5,260.5 141.5,262.5 141.5,264.5 143.5,261.5 144.5,251.5 145.5,262.5 145.5,260.5 146.5,259.5 148.5,261.5 149.5,261.5 151.5,259.5 151.5,260.5 152.5,258.5 154.5,256.5 155.5,252.5 158.5,264.5 159.5,265.5 160.5,263.5 162.5,260.5 162.5,258.5 163.5,270.5 165.5,271.5 166.5,269.5 168.5,265.5 170.5,264.5 171.5,261.5 172.5,260.5 174.5,249.5 176.5,250.5 177.5,251.5 179.5,253.5 181.5,254.5 182.5,253.5 184.5,255.5 184.5,254.5 187.5,245.5 189.5,251.5 190.5,251.5 192.5,252.5 191.5,239.5 193.5,251.5 195.5,261.5 196.5,262.5 198.5,267.5 199.5,268.5 199.5,268.5 201.5,269.5 203.5,267.5 203.5,254.5 204.5,264.5 206.5,263.5 206.5,263.5 207.5,265.5 209.5,267.5 210.5,267.5 210.5,268.5 212.5,272.5 214.5,274.5 215.5,267.5 217.5,267.5 218.5,267.5 220.5,267.5 220.5,265.5 221.5,264.5 223.5,262.5 224.5,263.5 225.5,260.5 226.5,260.5 228.5,262.5 229.5,260.5 231.5,262.5 231.5,261.5 232.5,259.5 234.5,255.5 234.5,242.5 235.5,254.5 236.5,250.5 237.5,251.5 237.5,272.5 239.5,255.5 240.5,258.5 240.5,261.5 242.5,260.5 242.5,228.5 243.5,256.5 245.5,248.5 245.5,249.5 246.5,253.5 247.5,251.5 248.5,246.5 250.5,251.5 251.5,255.5 253.5,258.5 252.5,257.5 254.5,254.5 256.5,253.5 256.5,249.5 257.5,244.5 258.5,239.5 259.5,235.5 260.5,227.5 260.5,227.5 260.5,231.5 260.5,235.5 261.5,237.5 261.5,243.5 262.5,245.5 264.5,248.5 265.5,251.5 266.5,250.5 267.5,249.5 268.5,244.5 268.5,231.5 269.5,240.5 270.5,240.5 270.5,250.5 272.5,237.5 273.5,237.5 275.5,240.5 276.5,238.5 276.5,238.5 278.5,239.5 279.5,241.5 281.5,238.5 282.5,239.5 282.5,239.5 284.5,238.5 286.5,238.5 287.5,238.5 287.5,236.5 289.5,238.5 290.5,238.5 291.5,238.5 292.5,250.5 295.5,242.5 297.5,244.5 298.5,245.5 300.5,244.5 301.5,242.5 302.5,233.5 303.5,244.5 304.5,244.5 304.5,242.5 307.5,244.5 311.5,234.5 312.5,241.5 315.5,249.5 315.5,251.5 317.5,248.5 318.5,244.5 319.5,244.5 320.5,241.5 322.5,239.5 321.5,238.5 324.5,239.5 326.5,239.5 328.5,240.5 330.5,242.5 329.5,240.5 331.5,242.5 333.5,240.5 334.5,238.5 334.5,237.5 370.5,203.5 370.5,186.5 400.5,196.5 400.5,182.5 402.5,206.5 405.5,206.5 404.5,216.5 406.5,230.5" fill="none" stroke="#00f" stroke-width="1" shape-rendering="crispEdges"/><use href="#m" x="63.5" y="232.5"/><use href="#m" x="71.5" y="234.5"/><use href="#m" x="83.5" y="217.5"/><use href="#m" x="88.5" y="222.5"/><use href="#m" x="102.5" y="237.5"/><use href="#m" x="104.5" y="238.5"/><use href="#m" x="113.5" y="240.5"/><use href="#m" x="115.5" y="243.5"/><use href="#m" x="116.5" y="255.5"/><use href="#m" x="119.5" y="251.5"/><use href="#m" x="122.5" y="255.5"/><use href="#m" x="123.5" y="248.5"/><use href="#m" x="126.5" y="259.5"/><use href="#m" x="127.5" y="262.5"/><use href="#m" x="129.5" y="258.5"/><use href="#m" x="130.5" y="260.5"/><use href="#m" x="130.5" y="261.5"/><use href="#m" x="132.5" y="262.5"/><use href="#m" x="134.5" y="260.5"/><use href="#m" x="134.5" y="251.5"/><use href="#m" x="135.5" y="260.5"/><use href="#m" x="137.5" y="260.5"/><use href="#m" x="138.5" y="260.5"/><use href="#m" x="141.5" y="262.5"/><use href="#m" x="141.5" y="264.5"/><use href="#m" x="143.5" y="261.5"/><use href="#m" x="144.5" y="251.5"/><use href="#m" x="145.5" y="262.5"/><use href="#m" x="145.5" y="260.5"/><use href="#m" x="146.5" y="259.5"/><use href="#m" x="148.5" y="261.5"/><use href="#m" x="149.5" y="261.5"/><use href="#m" x="151.5" y="259.5"/><use href="#m" x="151.5" y="260.5"/><use href="#m" x="152.5" y="258.5"/><use href="#m" x="154.5" y="256.5"/><use href="#m" x="155.5" y="252.5"/><use href="#m" x="158.5" y="264.5"/><use href="#m" x="159.5" y="265.5"/><use href="#m" x="160.5" y="263.5"/><use href="#m" x="162.5" y="260.5"/><use href="#m" x="162.5" y="258.5"/><use href="#m" x="163.5" y="270.5"/><use href="#m" x="165.5" y="271.5"/><use href="#m" x="166.5" y="269.5"/><use href="#m" x="168.5" y="265.5"/><use href="#m" x="170.5" y="264.5"/><use href="#m" x="171.5" y="261.5"/><use href="#m" x="172.5" y="260.5"/><use href="#m" x="174.5" y="249.5"/><use href="#m" x="176.5" y="250.5"/><use href="#m" x="177.5" y="251.5"/><use href="#m" x="179.5" y="253.5"/><use href="#m" x="181.5" y="254.5"/><use href="#m" x="182.5" y="253.5"/><use href="#m" x="184.5" y="255.5"/><use href="#m" x="184.5" y="254.5"/><use href="#m" x="187.5" y="245.5"/><use href="#m" x="189.5" y="251.5"/><use href="#m" x="190.5" y="251.5"/><use href="#m" x="192.5" y="252.5"/><use href="#m" x="191.5" y="239.5"/><use href="#m" x="193.5" y="251.5"/><use href="#m" x="195.5" y="261.5"/><use href="#m" x="196.5" y="262.5"/><use href="#m" x="198.5" y="267.5"/><use href="#m" x="199.5" y="268.5"/><use href="#m" x="199.5" y="268.5"/><use href="#m" x="201.5" y="269.5"/><use href="#m" x="203.5" y="267.5"/><use href="#m" x="203.5" y="254.5"/><use href="#m" x="204.5" y="264.5"/><use href="#m" x="206.5" y="263.5"/><use href="#m" x="206.5" y="263.5"/><use href="#m" x="207.5" y="265.5"/><use href="#m" x="209.5" y="267.5"/><use href="#m" x="210.5" y="267.5"/><use href="#m" x="210.5" y="268.5"/><use href="#m" x="212.5" y="272.5"/><use href="#m" x="214.5" y="274.5"/><use href="#m" x="215.5" y="267.5"/><use href="#m" x="217.5" y="267.5"/><use href="#m" x="218.5" y="267.5"/><use href="#m" x="220.5" y="267.5"/><use href="#m" x="220.5" y="265.5"/><use href="#m" x="221.5" y="264.5"/><use href="#m" x="223.5" y="262.5"/><use href="#m" x="224.5" y="263.5"/><use href="#m" x="225.5" y="260.5"/><use href="#m" x="226.5" y="260.5"/><use href="#m" x="228.5" y="262.5"/><use href="#m" x="229.5" y="260.5"/><use href="#m" x="231.5" y="262.5"/><use href="#m" x="231.5" y="261.5"/><use href="#m" x="232.5" y="259.5"/><use href="#m" x="234.5" y="255.5"/><use href="#m" x="234.5" y="242.5"/><use href="#m" x="235.5" y="254.5"/><use href="#m" x="236.5" y="250.5"/><use href="#m" x="237.5" y="251.5"/><use href="#m" x="237.5" y="272.5"/><use href="#m" x="239.5" y="255.5"/><use href="#m" x="240.5" y="258.5"/><use href="#m" x="240.5" y="261.5"/><use href="#m" x="242.5" y="260.5"/><use href="#m" x="242.5" y="228.5"/><use href="#m" x="243.5" y="256.5"/><use href="#m" x="245.5" y="248.5"/><use href="#m" x="245.5" y="249.5"/><use href="#m" x="246.5" y="253.5"/><use href="#m" x="247.5" y="251.5"/><use href="#m" x="248.5" y="246.5"/><use href="#m" x="250.5" y="251.5"/><use href="#m" x="251.5" y="255.5"/><use href="#m" x="253.5" y="258.5"/><use href="#m" x="252.5" y="257.5"/><use href="#m" x="254.5" y="254.5"/><use href="#m" x="256.5" y="253.5"/><use href="#m" x="256.5" y="249.5"/><use href="#m" x="257.5" y="244.5"/><use href="#m" x="258.5" y="239.5"/><use href="#m" x="259.5" y="235.5"/><use href="#m" x="260.5" y="227.5"/><use href="#m" x="260.5" y="227.5"/><use href="#m" x="260.5" y="231.5"/><use href="#m" x="260.5" y="235.5"/><use href="#m" x="261.5" y="237.5"/><use href="#m" x="261.5" y="243.5"/><use href="#m" x="262.5" y="245.5"/><use href="#m" x="264.5" y="248.5"/><use href="#m" x="265.5" y="251.5"/><use href="#m" x="266.5" y="250.5"/><use href="#m" x="267.5" y="249.5"/><use href="#m" x="268.5" y="244.5"/><use href="#m" x="268.5" y="231.5"/><use href="#m" x="269.5" y="240.5"/><use href="#m" x="270.5" y="240.5"/><use href="#m" x="270.5" y="250.5"/><use href="#m" x="272.5" y="237.5"/><use href="#m" x="273.5" y="237.5"/><use href="#m" x="275.5" y="240.5"/><use href="#m" x="276.5" y="238.5"/><use href="#m" x="276.5" y="238.5"/><use href="#m" x="278.5" y="239.5"/><use href="#m" x="279.5" y="241.5"/><use href="#m" x="281.5" y="238.5"/><use href="#m" x="282.5" y="239.5"/><use href="#m" x="282.5" y="239.5"/><use href="#m" x="284.5" y="238.5"/><use href="#m" x="286.5" y="238.5"/><use href="#m" x="287.5" y="238.5"/><use href="#m" x="287.5" y="236.5"/><use href="#m" x="289.5" y="238.5"/><use href="#m" x="290.5" y="238.5"/><use href="#m" x="291.5" y="238.5"/><use href="#m" x="292.5" y="250.5"/><use href="#m" x="295.5" y="242.5"/><use href="#m" x="297.5" y="244.5"/><use href="#m" x="298.5" y="245.5"/><use href="#m" x="300.5" y="244.5"/><use href="#m" x="301.5" y="242.5"/><use href="#m" x="302.5" y="233.5"/><use href="#m" x="303.5" y="244.5"/><use href="#m" x="304.5" y="244.5"/><use href="#m" x="304.5" y="242.5"/><use href="#m" x="307.5" y="244.5"/><use href="#m" x="311.5" y="234.5"/><use href="#m" x="312.5" y="241.5"/><use href="#m" x="315.5" y="249.5"/><use href="#m" x="315.5" y="251.5"/><use href="#m" x="317.5" y="248.5"/><use href="#m" x="318.5" y="244.5"/><use href="#m" x="319.5" y="244.5"/><use href="#m" x="320.5" y="241.5"/><use href="#m" x="322.5" y="239.5"/><use href="#m" x="321.5" y="238.5"/><use href="#m" x="324.5" y="239.5"/><use href="#m" x="326.5" y="239.5"/><use href="#m" x="328.5" y="240.5"/><use href="#m" x="330.5" y="242.5"/><use href="#m" x="329.5" y="240.5"/><use href="#m" x="331.5" y="242.5"/><use href="#m" x="333.5" y="240.5"/><use href="#m" x="334.5" y="238.5"/><use href="#m" x="334.5" y="237.5"/><use href="#m" x="370.5" y="203.5"/><use href="#m" x="370.5" y="186.5"/><use href="#m" x="400.5" y="196.5"/><use href="#m" x="400.5" y="182.5"/><use href="#m" x="402.5" y="206.5"/><use href="#m" x="405.5" y="206.5"/><use href="#m" x="404.5" y="216.5"/><use href="#m" x="406.5" y="230.5"/><rect x="13.5" y="160.5" width="383" height="14" fill="#fff" stroke="#000" stroke-width="1"/><text x="203.6" y="170.95" text-anchor="middle" class="t">South Sta-1 Oct-4 Pedestals vrs Day (Packet 11033)</text></g>
<g><rect x="554.5" y="173.5" width="383" height="110" fill="none" stroke="#000" stroke-width="1"/><path d="M554.5 283.5V280M562.5 283.5V281M570.5 283.5V281M578.5 283.5V281M586.5 283.5V280M593.5 283.5V281M601.5 283.5V281M609.5 283.5V281M617.5 283.5V280M625.5 283.5V281M633.5 283.5V281M640.5 283.5V281M648.5 283.5V280M656.5 283.5V281M664.5 283.5V281M672.5 283.5V281M680.5 283.5V280M687.5 283.5V281M695.5 283.5V281M703.5 283.5V281M711.5 283.5V280M719.5 283.5V281M727.5 283.5V281M735.5 283.5V281M742.5 283.5V280M750.5 283.5V281M758.5 283.5V281M766.5 283.5V281M774.5 283.5V280M782.5 283.5V281M789.5 283.5V281M797.5 283.5V281M805.5 283.5V280M813.5 283.5V281M821.5 283.5V281M829.5 283.5V281M836.5 283.5V280M844.5 283.5V281M852.5 283.5V281M860.5 283.5V281M868.5 283.5V280M876.5 283.5V281M883.5 283.5V281M891.5 283.5V281M899.5 283.5V280M907.5 283.5V281M915.5 283.5V281M923.5 283.5V281M931.5 283.5V280M554.5 281.5H561M554.5 279.5H561M554.5 277.5H567M554.5 274.5H561M554.5 272.5H561M554.5 270.5H561M554.5 268.5H561M554.5 265.5H567M554.5 263.5H561M554.5 261.5H561M554.5 259.5H561M554.5 256.5H561M554.5 254.5H567M554.5 252.5H561M554.5 250.5H561M554.5 247.5H561M554.5 245.5H561M554.5 243.5H567M554.5 240.5H561M554.5 238.5H561M554.5 236.5H561M554.5 234.5H561M554.5 231.5H567M554.5 229.5H561M554.5 227.5H561M554.5 225.5H561M554.5 222.5H561M554.5 220.5H567M554.5 218.5H561M554.5 216.5H561M554.5 213.5H561M554.5 211.5H561M554.5 209.5H567M554.5 206.5H561M554.5 204.5H561M554.5 202.5H561M554.5 200.5H561M554.5 197.5H567M554.5 195.5H561M554.5 193.5H561M554.5 191.5H561M554.5 188.5H561M554.5 186.5H567M554.5 184.5H561M554.5 181.5H561M554.5 179.5H561M554.5 177.5H561M554.5 175.5H567" stroke="#000" stroke-width="1" fill="none"/><text x="552.1" y="278" text-anchor="end" class="l">1800</text><text x="552.1" y="267" text-anchor="end" class="l">1810</text><text x="552.1" y="256" text-anchor="end" class="l">1820</text><text x="552.1" y="244" text-anchor="end" class="l">1830</text><text x="552.1" y="233" text-anchor="end" class="l">1840</text><text x="552.1" y="222" text-anchor="end" class="l">1850</text><text x="552.1" y="210" text-anchor="end" class="l">1860</text><text x="552.1" y="199" text-anchor="end" class="l">1870</text><text x="552.1" y="188" text-anchor="end" class="l">1880</text><text x="552.1" y="176" text-anchor="end" class="l">1890</text><text x="553.7" y="292" text-anchor="middle" class="l">0</text><text x="585.06" y="292" text-anchor="middle" class="l">20</text><text x="616.42" y="292" text-anchor="middle" class="l">40</text><text x="647.78" y="292" text-anchor="middle" class="l">60</text><text x="679.14" y="292" text-anchor="middle" class="l">80</text><text x="710.5" y="292" text-anchor="middle" class="l">100</text><text x="741.86" y="292" text-anchor="middle" class="l">120</text><text x="773.22" y="292" text-anchor="middle" class="l">140</text><text x="804.58" y="292" text-anchor="middle" class="l">160</text><text x="835.94" y="292" text-anchor="middle" class="l">180</text><text x="867.3" y="292" text-anchor="middle" class="l">200</text><text x="898.66" y="292" text-anchor="middle" class="l">220</text><text x="930.02" y="292" text-anchor="middle" class="l">240</text><polyline points="561.5,236.5 569.5,236.5 581.5,235.5 586.5,236.5 600.5,237.5 611.5,239.5 613.5,239.5 614.5,240.5 616.5,239.5 617.5,239.5 619.5,240.5 621.5,240.5 622.5,241.5 624.5,241.5 625.5,240.5 627.5,241.5 628.5,242.5 630.5,241.5 632.5,238.5 633.5,239.5 635.5,241.5 636.5,242.5 638.5,242.5 639.5,241.5 641.5,242.5 643.5,243.5 644.5,243.5 646.5,242.5 647.5,242.5 649.5,242.5 650.5,243.5 652.5,243.5 653.5,243.5 655.5,243.5 657.5,243.5 658.5,243.5 660.5,242.5 661.5,242.5 663.5,242.5 664.5,243.5 666.5,243.5 668.5,242.5 669.5,241.5 671.5,242.5 672.5,241.5 674.5,239.5 675.5,240.5 677.5,240.5 679.5,241.5 680.5,241.5 682.5,241.5 683.5,241.5 685.5,240.5 686.5,240.5 688.5,240.5 690.5,238.5 691.5,240.5 693.5,241.5 694.5,242.5 696.5,243.5 697.5,242.5 699.5,242.5 701.5,242.5 702.5,243.5 704.5,244.5 705.5,243.5 707.5,243.5 708.5,243.5 710.5,243.5 712.5,243.5 713.5,244.5 715.5,243.5 716.5,243.5 718.5,242.5 719.5,243.5 721.5,243.5 722.5,243.5 724.5,242.5 726.5,243.5 727.5,243.5 729.5,242.5 730.5,242.5 732.5,239.5 733.5,240.5 735.5,242.5 737.5,242.5 738.5,240.5 740.5,237.5 740.5,236.5 743.5,241.5 744.5,241.5 746.5,241.5 748.5,242.5 749.5,241.5 751.5,240.5 752.5,240.5 754.5,241.5 755.5,240.5 757.5,238.5 759.5,237.5 760.5,237.5 762.5,239.5 763.5,238.5 765.5,239.5 766.5,239.5 768.5,239.5 770.5,239.5 771.5,239.5 773.5,240.5 774.5,239.5 776.5,239.5 777.5,238.5 779.5,238.5 780.5,238.5 782.5,239.5 784.5,238.5 785.5,239.5 787.5,239.5 786.5,238.5 787.5,230.5 791.5,182.5 801.5,274.5 868.5,227.5 898.5,228.5 898.5,230.5 901.5,231.5 903.5,233.5 903.5,235.5" fill="none" stroke="#00f" stroke-width="1" shape-rendering="crispEdges"/><use href="#m" x="561.5" y="236.5"/><use href="#m" x="569.5" y="236.5"/><use href="#m" x="581.5" y="235.5"/><use href="#m" x="586.5" y="236.5"/><use href="#m" x="600.5" y="237.5"/><use href="#m" x="611.5" y="239.5"/><use href="#m" x="613.5" y="239.5"/><use href="#m" x="614.5" y="240.5"/><use href="#m" x="616.5" y="239.5"/><use href="#m" x="617.5" y="239.5"/><use href="#m" x="619.5" y="240.5"/><use href="#m" x="621.5" y="240.5"/><use href="#m" x="622.5" y="241.5"/><use href="#m" x="624.5" y="241.5"/><use href="#m" x="625.5" y="240.5"/><use href="#m" x="627.5" y="241.5"/><use href="#m" x="628.5" y="242.5"/><use href="#m" x="630.5" y="241.5"/><use href="#m" x="632.5" y="238.5"/><use href="#m" x="633.5" y="239.5"/><use href="#m" x="635.5" y="241.5"/><use href="#m" x="636.5" y="242.5"/><use href="#m" x="638.5" y="242.5"/><use href="#m" x="639.5" y="241.5"/><use href="#m" x="641.5" y="242.5"/><use href="#m" x="643.5" y="243.5"/><use href="#m" x="644.5" y="243.5"/><use href="#m" x="646.5" y="242.5"/><use href="#m" x="647.5" y="242.5"/><use href="#m" x="649.5" y="242.5"/><use href="#m" x="650.5" y="243.5"/><use href="#m" x="652.5" y="243.5"/><use href="#m" x="653.5" y="243.5"/><use href="#m" x="655.5" y="243.5"/><use href="#m" x="657.5" y="243.5"/><use href="#m" x="658.5" y="243.5"/><use href="#m" x="660.5" y="242.5"/><use href="#m" x="661.5" y="242.5"/><use href="#m" x="663.5" y="242.5"/><use href="#m" x="664.5" y="243.5"/><use href="#m" x="666.5" y="243.5"/><use href="#m" x="668.5" y="242.5"/><use href="#m" x="669.5" y="241.5"/><use href="#m" x="671.5" y="242.5"/><use href="#m" x="672.5" y="241.5"/><use href="#m" x="674.5" y="239.5"/><use href="#m" x="675.5" y="240.5"/><use href="#m" x="677.5" y="240.5"/><use href="#m" x="679.5" y="241.5"/><use href="#m" x="680.5" y="241.5"/><use href="#m" x="682.5" y="241.5"/><use href="#m" x="683.5" y="241.5"/><use href="#m" x="685.5" y="240.5"/><use href="#m" x="686.5" y="240.5"/><use href="#m" x="688.5" y="240.5"/><use href="#m" x="690.5" y="238.5"/><use href="#m" x="691.5" y="240.5"/><use href="#m" x="693.5" y="241.5"/><use href="#m" x="694.5" y="242.5"/><use href="#m" x="696.5" y="243.5"/><use href="#m" x="697.5" y="242.5"/><use href="#m" x="699.5" y="242.5"/><use href="#m" x="701.5" y="242.5"/><use href="#m" x="702.5" y="243.5"/><use href="#m" x="704.5" y="244.5"/><use href="#m" x="705.5" y="243.5"/><use href="#m" x="707.5" y="243.5"/><use href="#m" x="708.5" y="243.5"/><use href="#m" x="710.5" y="243.5"/><use href="#m" x="712.5" y="243.5"/><use href="#m" x="713.5" y="244.5"/><use href="#m" x="715.5" y="243.5"/><use href="#m" x="716.5" y="243.5"/><use href="#m" x="718.5" y="242.5"/><use href="#m" x="719.5" y="243.5"/><use href="#m" x="721.5" y="243.5"/><use href="#m" x="722.5" y="243.5"/><use href="#m" x="724.5" y="242.5"/><use href="#m" x="726.5" y="243.5"/><use href="#m" x="727.5" y="243.5"/><use href="#m" x="729.5" y="242.5"/><use href="#m" x="730.5" y="242.5"/><use href="#m" x="732.5" y="239.5"/><use href="#m" x="733.5" y="240.5"/><use href="#m" x="735.5" y="242.5"/><use href="#m" x="737.5" y="242.5"/><use href="#m" x="738.5" y="240.5"/><use href="#m" x="740.5" y="237.5"/><use href="#m" x="740.5" y="236.5"/><use href="#m" x="743.5" y="241.5"/><use href="#m" x="744.5" y="241.5"/><use href="#m" x="746.5" y="241.5"/><use href="#m" x="748.5" y="242.5"/><use href="#m" x="749.5" y="241.5"/><use href="#m" x="751.5" y="240.5"/><use href="#m" x="752.5" y="240.5"/><use href="#m" x="754.5" y="241.5"/><use href="#m" x="755.5" y="240.5"/><use href="#m" x="757.5" y="238.5"/><use href="#m" x="759.5" y="237.5"/><use href="#m" x="760.5" y="237.5"/><use href="#m" x="762.5" y="239.5"/><use href="#m" x="763.5" y="238.5"/><use href="#m" x="765.5" y="239.5"/><use href="#m" x="766.5" y="239.5"/><use href="#m" x="768.5" y="239.5"/><use href="#m" x="770.5" y="239.5"/><use href="#m" x="771.5" y="239.5"/><use href="#m" x="773.5" y="240.5"/><use href="#m" x="774.5" y="239.5"/><use href="#m" x="776.5" y="239.5"/><use href="#m" x="777.5" y="238.5"/><use href="#m" x="779.5" y="238.5"/><use href="#m" x="780.5" y="238.5"/><use href="#m" x="782.5" y="239.5"/><use href="#m" x="784.5" y="238.5"/><use href="#m" x="785.5" y="239.5"/><use href="#m" x="787.5" y="239.5"/><use href="#m" x="786.5" y="238.5"/><use href="#m" x="787.5" y="230.5"/><use href="#m" x="791.5" y="182.5"/><use href="#m" x="801.5" y="274.5"/><use href="#m" x="868.5" y="227.5"/><use href="#m" x="898.5" y="228.5"/><use href="#m" x="898.5" y="230.5"/><use href="#m" x="901.5" y="231.5"/><use href="#m" x="903.5" y="233.5"/><use href="#m" x="903.5" y="235.5"/><rect x="511.5" y="160.5" width="383" height="14" fill="#fff" stroke="#000" stroke-width="1"/><text x="701.6" y="170.95" text-anchor="middle" class="t">South Sta-1 Oct-4 Pedestals vrs Day (Packet 11034)</text></g>
<g><rect x="56.5" y="325.5" width="383" height="110" fill="none" stroke="#000" stroke-width="1"/><path d="M56.5 435.5V432M64.5 435.5V433M72.5 435.5V433M80.5 435.5V433M88.5 435.5V432M95.5 435.5V433M103.5 435.5V433M111.5 435.5V433M119.5 435.5V432M127.5 435.5V433M135.5 435.5V433M142.5 435.5V433M150.5 435.5V432M158.5 435.5V433M166.5 435.5V433M174.5 435.5V433M182.5 435.5V432M189.5 435.5V433M197.5 435.5V433M205.5 435.5V433M213.5 435.5V432M221.5 435.5V433M229.5 435.5V433M237.5 435.5V433M244.5 435.5V432M252.5 435.5V433M260.5 435.5V433M268.5 435.5V433M276.5 435.5V432M284.5 435.5V433M291.5 435.5V433M299.5 435.5V433M307.5 435.5V432M315.5 435.5V433M323.5 435.5V433M331.5 435.5V433M338.5 435.5V432M346.5 435.5V433M354.5 435.5V433M362.5 435.5V433M370.5 435.5V432M378.5 435.5V433M385.5 435.5V433M393.5 435.5V433M401.5 435.5V432M409.5 435.5V433M417.5 435.5V433M425.5 435.5V433M433.5 435.5V432M56.5 435.5H63M56.5 431.5H69M56.5 427.5H63M56.5 423.5H63M56.5 419.5H63M56.5 415.5H69M56.5 412.5H63M56.5 408.5H63M56.5 404.5H63M56.5 400.5H69M56.5 396.5H63M56.5 392.5H63M56.5 388.5H63M56.5 384.5H69M56.5 380.5H63M56.5 376.5H63M56.5 372.5H63M56.5 368.5H69M56.5 364.5H63M56.5 360.5H63M56.5 356.5H63M56.5 352.5H69M56.5 348.5H63M56.5 345.5H63M56.5 341.5H63M56.5 337.5H69M56.5 333.5H63M56.5 329.5H63M56.5 325.5H63" stroke="#000" stroke-width="1" fill="none"/><text x="54.1" y="433" text-anchor="end" class="l">1830</text><text x="54.1" y="418" text-anchor="end" class="l">1832</text><text x="54.1" y="402" text-anchor="end" class="l">1834</text><text x="54.1" y="386" text-anchor="end" class="l">1836</text><text x="54.1" y="370" text-anchor="end" class="l">1838</text><text x="54.1" y="355" text-anchor="end" class="l">1840</text><text x="54.1" y="339" text-anchor="end" class="l">1842</text><text x="55.7" y="444" text-anchor="middle" class="l">0</text><text x="87.06" y="444" text-anchor="middle" class="l">20</text><text x="118.42" y="444" text-anchor="middle" class="l">40</text><text x="149.78" y="444" text-anchor="middle" class="l">60</text><text x="181.14" y="444" text-anchor="middle" class="l">80</text><text x="212.5" y="444" text-anchor="middle" class="l">100</text><text x="243.86" y="444" text-anchor="middle" class="l">120</text><text x="275.22" y="444" text-anchor="middle" class="l">140</text><text x="306.58" y="444" text-anchor="middle" class="l">160</text><text x="337.94" y="444" text-anchor="middle" class="l">180</text><text x="369.3" y="444" text-anchor="middle" class="l">200</text><text x="400.66" y="444" text-anchor="middle" class="l">220</text><text x="432.02" y="444" text-anchor="middle" class="l">240</text><polyline points="63.5,380.5 71.5,378.5 83.5,375.5 88.5,368.5 102.5,375.5 103.5,380.5 113.5,391.5 115.5,392.5 115.5,407.5 116.5,399.5 118.5,401.5 119.5,397.5 119.5,404.5 120.5,408.5 121.5,406.5 123.5,404.5 123.5,401.5 125.5,412.5 126.5,409.5 127.5,412.5 129.5,410.5 130.5,403.5 132.5,401.5 132.5,396.5 134.5,401.5 135.5,401.5 137.5,410.5 138.5,413.5 140.5,410.5 141.5,408.5 142.5,409.5 144.5,397.5 145.5,402.5 148.5,413.5 149.5,411.5 151.5,408.5 152.5,409.5 152.5,409.5 154.5,412.5 155.5,413.5 155.5,398.5 157.5,415.5 158.5,419.5 161.5,421.5 162.5,408.5 164.5,421.5 165.5,419.5 166.5,422.5 168.5,421.5 169.5,422.5 170.5,422.5 171.5,422.5 173.5,419.5 173.5,417.5 173.5,408.5 174.5,397.5 176.5,398.5 177.5,398.5 178.5,399.5 179.5,402.5 181.5,403.5 182.5,402.5 184.5,405.5 184.5,412.5 185.5,402.5 187.5,406.5 187.5,403.5 190.5,403.5 192.5,407.5 191.5,386.5 193.5,413.5 194.5,414.5 195.5,413.5 196.5,413.5 198.5,415.5 199.5,416.5 199.5,415.5 202.5,402.5 204.5,401.5 206.5,410.5 207.5,414.5 209.5,413.5 210.5,415.5 212.5,416.5 212.5,417.5 215.5,415.5 217.5,414.5 218.5,409.5 220.5,407.5 221.5,410.5 222.5,408.5 223.5,410.5 224.5,416.5 225.5,415.5 226.5,415.5 228.5,414.5 229.5,411.5 231.5,408.5 232.5,408.5 234.5,406.5 234.5,386.5 235.5,396.5 235.5,396.5 237.5,424.5 237.5,425.5 240.5,412.5 242.5,409.5 242.5,380.5 243.5,406.5 244.5,402.5 245.5,403.5 246.5,401.5 246.5,412.5 248.5,403.5 248.5,400.5 250.5,401.5 251.5,405.5 253.5,406.5 252.5,408.5 254.5,408.5 256.5,411.5 257.5,414.5 257.5,406.5 257.5,404.5 257.5,399.5 257.5,391.5 258.5,383.5 258.5,381.5 260.5,363.5 260.5,365.5 260.5,369.5 260.5,376.5 261.5,381.5 262.5,384.5 262.5,390.5 265.5,408.5 266.5,407.5 267.5,409.5 268.5,381.5 269.5,384.5 269.5,388.5 270.5,389.5 271.5,390.5 273.5,390.5 275.5,393.5 276.5,393.5 276.5,392.5 278.5,392.5 279.5,390.5 281.5,392.5 281.5,392.5 282.5,394.5 284.5,393.5 286.5,387.5 287.5,387.5 289.5,389.5 290.5,393.5 290.5,391.5 292.5,391.5 293.5,391.5 295.5,384.5 295.5,385.5 297.5,388.5 298.5,384.5 300.5,387.5 301.5,388.5 301.5,385.5 303.5,386.5 304.5,384.5 305.5,383.5 307.5,390.5 309.5,392.5 311.5,392.5 312.5,394.5 312.5,391.5 315.5,393.5 317.5,383.5 319.5,385.5 320.5,381.5 322.5,382.5 321.5,381.5 323.5,380.5 325.5,379.5 326.5,379.5 327.5,379.5 328.5,382.5 330.5,379.5 331.5,381.5 331.5,381.5 334.5,382.5 370.5,341.5 370.5,342.5 400.5,350.5 400.5,334.5 401.5,356.5 405.5,369.5 404.5,370.5 406.5,387.5" fill="none" stroke="#00f" stroke-width="1" shape-rendering="crispEdges"/><use href="#m" x="63.5" y="380.5"/><use href="#m" x="71.5" y="378.5"/><use href="#m" x="83.5" y="375.5"/><use href="#m" x="88.5" y="368.5"/><use href="#m" x="102.5" y="375.5"/><use href="#m" x="103.5" y="380.5"/><use href="#m" x="113.5" y="391.5"/><use href="#m" x="115.5" y="392.5"/><use href="#m" x="115.5" y="407.5"/><use href="#m" x="116.5" y="399.5"/><use href="#m" x="118.5" y="401.5"/><use href="#m" x="119.5" y="397.5"/><use href="#m" x="119.5" y="404.5"/><use href="#m" x="120.5" y="408.5"/><use href="#m" x="121.5" y="406.5"/><use href="#m" x="123.5" y="404.5"/><use href="#m" x="123.5" y="401.5"/><use href="#m" x="125.5" y="412.5"/><use href="#m" x="126.5" y="409.5"/><use href="#m" x="127.5" y="412.5"/><use href="#m" x="129.5" y="410.5"/><use href="#m" x="130.5" y="403.5"/><use href="#m" x="132.5" y="401.5"/><use href="#m" x="132.5" y="396.5"/><use href="#m" x="134.5" y="401.5"/><use href="#m" x="135.5" y="401.5"/><use href="#m" x="137.5" y="410.5"/><use href="#m" x="138.5" y="413.5"/><use href="#m" x="140.5" y="410.5"/><use href="#m" x="141.5" y="408.5"/><use href="#m" x="142.5" y="409.5"/><use href="#m" x="144.5" y="397.5"/><use href="#m" x="145.5" y="402.5"/><use href="#m" x="148.5" y="413.5"/><use href="#m" x="149.5" y="411.5"/><use href="#m" x="151.5" y="408.5"/><use href="#m" x="152.5" y="409.5"/><use href="#m" x="152.5" y="409.5"/><use href="#m" x="154.5" y="412.5"/><use href="#m" x="155.5" y="413.5"/><use href="#m" x="155.5" y="398.5"/><use href="#m" x="157.5" y="415.5"/><use href="#m" x="158.5" y="419.5"/><use href="#m" x="161.5" y="421.5"/><use href="#m" x="162.5" y="408.5"/><use href="#m" x="164.5" y="421.5"/><use href="#m" x="165.5" y="419.5"/><use href="#m" x="166.5" y="422.5"/><use href="#m" x="168.5" y="421.5"/><use href="#m" x="169.5" y="422.5"/><use href="#m" x="170.5" y="422.5"/><use href="#m" x="171.5" y="422.5"/><use href="#m" x="173.5" y="419.5"/><use href="#m" x="173.5" y="417.5"/><use href="#m" x="173.5" y="408.5"/><use href="#m" x="174.5" y="397.5"/><use href="#m" x="176.5" y="398.5"/><use href="#m" x="177.5" y="398.5"/><use href="#m" x="178.5" y="399.5"/><use href="#m" x="179.5" y="402.5"/><use href="#m" x="181.5" y="403.5"/><use href="#m" x="182.5" y="402.5"/><use href="#m" x="184.5" y="405.5"/><use href="#m" x="184.5" y="412.5"/><use href="#m" x="185.5" y="402.5"/><use href="#m" x="187.5" y="406.5"/><use href="#m" x="187.5" y="403.5"/><use href="#m" x="190.5" y="403.5"/><use href="#m" x="192.5" y="407.5"/><use href="#m" x="191.5" y="386.5"/><use href="#m" x="193.5" y="413.5"/><use href="#m" x="194.5" y="414.5"/><use href="#m" x="195.5" y="413.5"/><use href="#m" x="196.5" y="413.5"/><use href="#m" x="198.5" y="415.5"/><use href="#m" x="199.5" y="416.5"/><use href="#m" x="199.5" y="415.5"/><use href="#m" x="202.5" y="402.5"/><use href="#m" x="204.5" y="401.5"/><use href="#m" x="206.5" y="410.5"/><use href="#m" x="207.5" y="414.5"/><use href="#m" x="209.5" y="413.5"/><use href="#m" x="210.5" y="415.5"/><use href="#m" x="212.5" y="416.5"/><use href="#m" x="212.5" y="417.5"/><use href="#m" x="215.5" y="415.5"/><use href="#m" x="217.5" y="414.5"/><use href="#m" x="218.5" y="409.5"/><use href="#m" x="220.5" y="407.5"/><use href="#m" x="221.5" y="410.5"/><use href="#m" x="222.5" y="408.5"/><use href="#m" x="223.5" y="410.5"/><use href="#m" x="224.5" y="416.5"/><use href="#m" x="225.5" y="415.5"/><use href="#m" x="226.5" y="415.5"/><use href="#m" x="228.5" y="414.5"/><use href="#m" x="229.5" y="411.5"/><use href="#m" x="231.5" y="408.5"/><use href="#m" x="232.5" y="408.5"/><use href="#m" x="234.5" y="406.5"/><use href="#m" x="234.5" y="386.5"/><use href="#m" x="235.5" y="396.5"/><use href="#m" x="235.5" y="396.5"/><use href="#m" x="237.5" y="424.5"/><use href="#m" x="237.5" y="425.5"/><use href="#m" x="240.5" y="412.5"/><use href="#m" x="242.5" y="409.5"/><use href="#m" x="242.5" y="380.5"/><use href="#m" x="243.5" y="406.5"/><use href="#m" x="244.5" y="402.5"/><use href="#m" x="245.5" y="403.5"/><use href="#m" x="246.5" y="401.5"/><use href="#m" x="246.5" y="412.5"/><use href="#m" x="248.5" y="403.5"/><use href="#m" x="248.5" y="400.5"/><use href="#m" x="250.5" y="401.5"/><use href="#m" x="251.5" y="405.5"/><use href="#m" x="253.5" y="406.5"/><use href="#m" x="252.5" y="408.5"/><use href="#m" x="254.5" y="408.5"/><use href="#m" x="256.5" y="411.5"/><use href="#m" x="257.5" y="414.5"/><use href="#m" x="257.5" y="406.5"/><use href="#m" x="257.5" y="404.5"/><use href="#m" x="257.5" y="399.5"/><use href="#m" x="257.5" y="391.5"/><use href="#m" x="258.5" y="383.5"/><use href="#m" x="258.5" y="381.5"/><use href="#m" x="260.5" y="363.5"/><use href="#m" x="260.5" y="365.5"/><use href="#m" x="260.5" y="369.5"/><use href="#m" x="260.5" y="376.5"/><use href="#m" x="261.5" y="381.5"/><use href="#m" x="262.5" y="384.5"/><use href="#m" x="262.5" y="390.5"/><use href="#m" x="265.5" y="408.5"/><use href="#m" x="266.5" y="407.5"/><use href="#m" x="267.5" y="409.5"/><use href="#m" x="268.5" y="381.5"/><use href="#m" x="269.5" y="384.5"/><use href="#m" x="269.5" y="388.5"/><use href="#m" x="270.5" y="389.5"/><use href="#m" x="271.5" y="390.5"/><use href="#m" x="273.5" y="390.5"/><use href="#m" x="275.5" y="393.5"/><use href="#m" x="276.5" y="393.5"/><use href="#m" x="276.5" y="392.5"/><use href="#m" x="278.5" y="392.5"/><use href="#m" x="279.5" y="390.5"/><use href="#m" x="281.5" y="392.5"/><use href="#m" x="281.5" y="392.5"/><use href="#m" x="282.5" y="394.5"/><use href="#m" x="284.5" y="393.5"/><use href="#m" x="286.5" y="387.5"/><use href="#m" x="287.5" y="387.5"/><use href="#m" x="289.5" y="389.5"/><use href="#m" x="290.5" y="393.5"/><use href="#m" x="290.5" y="391.5"/><use href="#m" x="292.5" y="391.5"/><use href="#m" x="293.5" y="391.5"/><use href="#m" x="295.5" y="384.5"/><use href="#m" x="295.5" y="385.5"/><use href="#m" x="297.5" y="388.5"/><use href="#m" x="298.5" y="384.5"/><use href="#m" x="300.5" y="387.5"/><use href="#m" x="301.5" y="388.5"/><use href="#m" x="301.5" y="385.5"/><use href="#m" x="303.5" y="386.5"/><use href="#m" x="304.5" y="384.5"/><use href="#m" x="305.5" y="383.5"/><use href="#m" x="307.5" y="390.5"/><use href="#m" x="309.5" y="392.5"/><use href="#m" x="311.5" y="392.5"/><use href="#m" x="312.5" y="394.5"/><use href="#m" x="312.5" y="391.5"/><use href="#m" x="315.5" y="393.5"/><use href="#m" x="317.5" y="383.5"/><use href="#m" x="319.5" y="385.5"/><use href="#m" x="320.5" y="381.5"/><use href="#m" x="322.5" y="382.5"/><use href="#m" x="321.5" y="381.5"/><use href="#m" x="323.5" y="380.5"/><use href="#m" x="325.5" y="379.5"/><use href="#m" x="326.5" y="379.5"/><use href="#m" x="327.5" y="379.5"/><use href="#m" x="328.5" y="382.5"/><use href="#m" x="330.5" y="379.5"/><use href="#m" x="331.5" y="381.5"/><use href="#m" x="331.5" y="381.5"/><use href="#m" x="334.5" y="382.5"/><use href="#m" x="370.5" y="341.5"/><use href="#m" x="370.5" y="342.5"/><use href="#m" x="400.5" y="350.5"/><use href="#m" x="400.5" y="334.5"/><use href="#m" x="401.5" y="356.5"/><use href="#m" x="405.5" y="369.5"/><use href="#m" x="404.5" y="370.5"/><use href="#m" x="406.5" y="387.5"/><rect x="13.5" y="312.5" width="383" height="14" fill="#fff" stroke="#000" stroke-width="1"/><text x="203.6" y="322.95" text-anchor="middle" class="t">South Sta-1 Oct-4 Pedestals vrs Day (Packet 11035)</text></g>
<g><rect x="554.5" y="325.5" width="383" height="110" fill="none" stroke="#000" stroke-width="1"/><path d="M554.5 435.5V432M562.5 435.5V433M570.5 435.5V433M578.5 435.5V433M586.5 435.5V432M593.5 435.5V433M601.5 435.5V433M609.5 435.5V433M617.5 435.5V432M625.5 435.5V433M633.5 435.5V433M640.5 435.5V433M648.5 435.5V432M656.5 435.5V433M664.5 435.5V433M672.5 435.5V433M680.5 435.5V432M687.5 435.5V433M695.5 435.5V433M703.5 435.5V433M711.5 435.5V432M719.5 435.5V433M727.5 435.5V433M735.5 435.5V433M742.5 435.5V432M750.5 435.5V433M758.5 435.5V433M766.5 435.5V433M774.5 435.5V432M782.5 435.5V433M789.5 435.5V433M797.5 435.5V433M805.5 435.5V432M813.5 435.5V433M821.5 435.5V433M829.5 435.5V433M836.5 435.5V432M844.5 435.5V433M852.5 435.5V433M860.5 435.5V433M868.5 435.5V432M876.5 435.5V433M883.5 435.5V433M891.5 435.5V433M899.5 435.5V432M907.5 435.5V433M915.5 435.5V433M923.5 435.5V433M931.5 435.5V432M554.5 433.5H567M554.5 428.5H561M554.5 424.5H561M554.5 419.5H561M554.5 415.5H567M554.5 411.5H561M554.5 406.5H561M554.5 402.5H561M554.5 397.5H567M554.5 393.5H561M554.5 388.5H561M554.5 384.5H561M554.5 380.5H567M554.5 375.5H561M554.5 371.5H561M554.5 366.5H561M554.5 362.5H567M554.5 357.5H561M554.5 353.5H561M554.5 348.5H561M554.5 344.5H567M554.5 340.5H561M554.5 335.5H561M554.5 331.5H561M554.5 326.5H567" stroke="#000" stroke-width="1" fill="none"/><text x="552.1" y="435" text-anchor="end" class="l">1798</text><text x="552.1" y="417" text-anchor="end" class="l">1800</text><text x="552.1" y="399" text-anchor="end" class="l">1802</text><text x="552.1" y="382" text-anchor="end" class="l">1804</text><text x="552.1" y="364" text-anchor="end" class="l">1806</text><text x="552.1" y="346" text-anchor="end" class="l">1808</text><text x="552.1" y="329" text-anchor="end" class="l">1810</text><text x="553.7" y="444" text-anchor="middle" class="l">0</text><text x="585.06" y="444" text-anchor="middle" class="l">20</text><text x="616.42" y="444" text-anchor="middle" class="l">40</text><text x="647.78" y="444" text-anchor="middle" class="l">60</text><text x="679.14" y="444" text-anchor="middle" class="l">80</text><text x="710.5" y="444" text-anchor="middle" class="l">100</text><text x="741.86" y="444" text-anchor="middle" class="l">120</text><text x="773.22" y="444" text-anchor="middle" class="l">140</text><text x="804.58" y="444" text-anchor="middle" class="l">160</text><text x="835.94" y="444" text-anchor="middle" class="l">180</text><text x="867.3" y="444" text-anchor="middle" class="l">200</text><text x="898.66" y="444" text-anchor="middle" class="l">220</text><text x="930.02" y="444" text-anchor="middle" class="l">240</text><polyline points="561.5,372.5 569.5,367.5 581.5,365.5 586.5,368.5 600.5,378.5 601.5,380.5 611.5,391.5 613.5,392.5 613.5,406.5 614.5,404.5 616.5,405.5 616.5,420.5 617.5,403.5 619.5,401.5 621.5,398.5 621.5,397.5 623.5,412.5 624.5,410.5 625.5,411.5 627.5,415.5 627.5,413.5 628.5,410.5 630.5,404.5 630.5,398.5 632.5,401.5 633.5,404.5 635.5,407.5 636.5,413.5 638.5,411.5 639.5,409.5 640.5,408.5 641.5,410.5 643.5,407.5 642.5,400.5 644.5,408.5 646.5,409.5 647.5,412.5 648.5,411.5 651.5,410.5 652.5,412.5 653.5,412.5 653.5,400.5 655.5,413.5 656.5,415.5 658.5,414.5 660.5,403.5 661.5,421.5 663.5,419.5 664.5,413.5 665.5,414.5 668.5,418.5 669.5,413.5 671.5,413.5 671.5,409.5 672.5,397.5 674.5,398.5 675.5,399.5 677.5,400.5 679.5,399.5 680.5,403.5 682.5,402.5 682.5,402.5 683.5,399.5 685.5,402.5 686.5,400.5 686.5,399.5 688.5,402.5 690.5,400.5 689.5,386.5 691.5,401.5 692.5,403.5 693.5,403.5 694.5,404.5 696.5,406.5 697.5,406.5 697.5,416.5 699.5,408.5 701.5,410.5 701.5,400.5 702.5,410.5 704.5,409.5 704.5,410.5 705.5,413.5 707.5,411.5 708.5,415.5 711.5,417.5 712.5,418.5 713.5,417.5 715.5,414.5 715.5,414.5 716.5,413.5 718.5,411.5 719.5,414.5 720.5,412.5 721.5,413.5 722.5,412.5 724.5,410.5 725.5,408.5 726.5,409.5 727.5,406.5 729.5,409.5 730.5,408.5 732.5,401.5 732.5,386.5 733.5,396.5 733.5,396.5 735.5,425.5 735.5,424.5 738.5,406.5 740.5,406.5 740.5,381.5 741.5,405.5 743.5,404.5 743.5,404.5 744.5,404.5 745.5,397.5 746.5,396.5 748.5,401.5 749.5,402.5 751.5,405.5 750.5,406.5 752.5,404.5 753.5,406.5 755.5,392.5 755.5,385.5 756.5,379.5 758.5,364.5 758.5,368.5 758.5,369.5 758.5,374.5 759.5,378.5 759.5,382.5 760.5,383.5 761.5,402.5 762.5,400.5 763.5,404.5 764.5,407.5 764.5,404.5 766.5,374.5 767.5,384.5 768.5,386.5 770.5,386.5 771.5,386.5 773.5,389.5 774.5,385.5 776.5,386.5 777.5,387.5 779.5,385.5 780.5,386.5 782.5,384.5 782.5,386.5 784.5,387.5 785.5,387.5 787.5,385.5 788.5,387.5 788.5,385.5 790.5,383.5 791.5,385.5 793.5,381.5 793.5,380.5 795.5,380.5 796.5,380.5 798.5,381.5 799.5,381.5 799.5,381.5 801.5,382.5 802.5,382.5 804.5,387.5 804.5,385.5 806.5,385.5 807.5,384.5 809.5,383.5 810.5,383.5 810.5,385.5 813.5,384.5 815.5,378.5 817.5,380.5 818.5,379.5 820.5,376.5 819.5,376.5 821.5,377.5 823.5,374.5 824.5,376.5 825.5,376.5 826.5,378.5 828.5,378.5 829.5,377.5 831.5,376.5 832.5,378.5 832.5,376.5 868.5,335.5 868.5,337.5 898.5,341.5 898.5,334.5 900.5,344.5 903.5,347.5 903.5,360.5 904.5,371.5" fill="none" stroke="#00f" stroke-width="1" shape-rendering="crispEdges"/><use href="#m" x="561.5" y="372.5"/><use href="#m" x="569.5" y="367.5"/><use href="#m" x="581.5" y="365.5"/><use href="#m" x="586.5" y="368.5"/><use href="#m" x="600.5" y="378.5"/><use href="#m" x="601.5" y="380.5"/><use href="#m" x="611.5" y="391.5"/><use href="#m" x="613.5" y="392.5"/><use href="#m" x="613.5" y="406.5"/><use href="#m" x="614.5" y="404.5"/><use href="#m" x="616.5" y="405.5"/><use href="#m" x="616.5" y="420.5"/><use href="#m" x="617.5" y="403.5"/><use href="#m" x="619.5" y="401.5"/><use href="#m" x="621.5" y="398.5"/><use href="#m" x="621.5" y="397.5"/><use href="#m" x="623.5" y="412.5"/><use href="#m" x="624.5" y="410.5"/><use href="#m" x="625.5" y="411.5"/><use href="#m" x="627.5" y="415.5"/><use href="#m" x="627.5" y="413.5"/><use href="#m" x="628.5" y="410.5"/><use href="#m" x="630.5" y="404.5"/><use href="#m" x="630.5" y="398.5"/><use href="#m" x="632.5" y="401.5"/><use href="#m" x="633.5" y="404.5"/><use href="#m" x="635.5" y="407.5"/><use href="#m" x="636.5" y="413.5"/><use href="#m" x="638.5" y="411.5"/><use href="#m" x="639.5" y="409.5"/><use href="#m" x="640.5" y="408.5"/><use href="#m" x="641.5" y="410.5"/><use href="#m" x="643.5" y="407.5"/><use href="#m" x="642.5" y="400.5"/><use href="#m" x="644.5" y="408.5"/><use href="#m" x="646.5" y="409.5"/><use href="#m" x="647.5" y="412.5"/><use href="#m" x="648.5" y="411.5"/><use href="#m" x="651.5" y="410.5"/><use href="#m" x="652.5" y="412.5"/><use href="#m" x="653.5" y="412.5"/><use href="#m" x="653.5" y="400.5"/><use href="#m" x="655.5" y="413.5"/><use href="#m" x="656.5" y="415.5"/><use href="#m" x="658.5" y="414.5"/><use href="#m" x="660.5" y="403.5"/><use href="#m" x="661.5" y="421.5"/><use href="#m" x="663.5" y="419.5"/><use href="#m" x="664.5" y="413.5"/><use href="#m" x="665.5" y="414.5"/><use href="#m" x="668.5" y="418.5"/><use href="#m" x="669.5" y="413.5"/><use href="#m" x="671.5" y="413.5"/><use href="#m" x="671.5" y="409.5"/><use href="#m" x="672.5" y="397.5"/><use href="#m" x="674.5" y="398.5"/><use href="#m" x="675.5" y="399.5"/><use href="#m" x="677.5" y="400.5"/><use href="#m" x="679.5" y="399.5"/><use href="#m" x="680.5" y="403.5"/><use href="#m" x="682.5" y="402.5"/><use href="#m" x="682.5" y="402.5"/><use href="#m" x="683.5" y="399.5"/><use href="#m" x="685.5" y="402.5"/><use href="#m" x="686.5" y="400.5"/><use href="#m" x="686.5" y="399.5"/><use href="#m" x="688.5" y="402.5"/><use href="#m" x="690.5" y="400.5"/><use href="#m" x="689.5" y="386.5"/><use href="#m" x="691.5" y="401.5"/><use href="#m" x="692.5" y="403.5"/><use href="#m" x="693.5" y="403.5"/><use href="#m" x="694.5" y="404.5"/><use href="#m" x="696.5" y="406.5"/><use href="#m" x="697.5" y="406.5"/><use href="#m" x="697.5" y="416.5"/><use href="#m" x="699.5" y="408.5"/><use href="#m" x="701.5" y="410.5"/><use href="#m" x="701.5" y="400.5"/><use href="#m" x="702.5" y="410.5"/><use href="#m" x="704.5" y="409.5"/><use href="#m" x="704.5" y="410.5"/><use href="#m" x="705.5" y="413.5"/><use href="#m" x="707.5" y="411.5"/><use href="#m" x="708.5" y="415.5"/><use href="#m" x="711.5" y="417.5"/><use href="#m" x="712.5" y="418.5"/><use href="#m" x="713.5" y="417.5"/><use href="#m" x="715.5" y="414.5"/><use href="#m" x="715.5" y="414.5"/><use href="#m" x="716.5" y="413.5"/><use href="#m" x="718.5" y="411.5"/><use href="#m" x="719.5" y="414.5"/><use href="#m" x="720.5" y="412.5"/><use href="#m" x="721.5" y="413.5"/><use href="#m" x="722.5" y="412.5"/><use href="#m" x="724.5" y="410.5"/><use href="#m" x="725.5" y="408.5"/><use href="#m" x="726.5" y="409.5"/><use href="#m" x="727.5" y="406.5"/><use href="#m" x="729.5" y="409.5"/><use href="#m" x="730.5" y="408.5"/><use href="#m" x="732.5" y="401.5"/><use href="#m" x="732.5" y="386.5"/><use href="#m" x="733.5" y="396.5"/><use href="#m" x="733.5" y="396.5"/><use href="#m" x="735.5" y="425.5"/><use href="#m" x="735.5" y="424.5"/><use href="#m" x="738.5" y="406.5"/><use href="#m" x="740.5" y="406.5"/><use href="#m" x="740.5" y="381.5"/><use href="#m" x="741.5" y="405.5"/><use href="#m" x="743.5" y="404.5"/><use href="#m" x="743.5" y="404.5"/><use href="#m" x="744.5" y="404.5"/><use href="#m" x="745.5" y="397.5"/><use href="#m" x="746.5" y="396.5"/><use href="#m" x="748.5" y="401.5"/><use href="#m" x="749.5" y="402.5"/><use href="#m" x="751.5" y="405.5"/><use href="#m" x="750.5" y="406.5"/><use href="#m" x="752.5" y="404.5"/><use href="#m" x="753.5" y="406.5"/><use href="#m" x="755.5" y="392.5"/><use href="#m" x="755.5" y="385.5"/><use href="#m" x="756.5" y="379.5"/><use href="#m" x="758.5" y="364.5"/><use href="#m" x="758.5" y="368.5"/><use href="#m" x="758.5" y="369.5"/><use href="#m" x="758.5" y="374.5"/><use href="#m" x="759.5" y="378.5"/><use href="#m" x="759.5" y="382.5"/><use href="#m" x="760.5" y="383.5"/><use href="#m" x="761.5" y="402.5"/><use href="#m" x="762.5" y="400.5"/><use href="#m" x="763.5" y="404.5"/><use href="#m" x="764.5" y="407.5"/><use href="#m" x="764.5" y="404.5"/><use href="#m" x="766.5" y="374.5"/><use href="#m" x="767.5" y="384.5"/><use href="#m" x="768.5" y="386.5"/><use href="#m" x="770.5" y="386.5"/><use href="#m" x="771.5" y="386.5"/><use href="#m" x="773.5" y="389.5"/><use href="#m" x="774.5" y="385.5"/><use href="#m" x="776.5" y="386.5"/><use href="#m" x="777.5" y="387.5"/><use href="#m" x="779.5" y="385.5"/><use href="#m" x="780.5" y="386.5"/><use href="#m" x="782.5" y="384.5"/><use href="#m" x="782.5" y="386.5"/><use href="#m" x="784.5" y="387.5"/><use href="#m" x="785.5" y="387.5"/><use href="#m" x="787.5" y="385.5"/><use href="#m" x="788.5" y="387.5"/><use href="#m" x="788.5" y="385.5"/><use href="#m" x="790.5" y="383.5"/><use href="#m" x="791.5" y="385.5"/><use href="#m" x="793.5" y="381.5"/><use href="#m" x="793.5" y="380.5"/><use href="#m" x="795.5" y="380.5"/><use href="#m" x="796.5" y="380.5"/><use href="#m" x="798.5" y="381.5"/><use href="#m" x="799.5" y="381.5"/><use href="#m" x="799.5" y="381.5"/><use href="#m" x="801.5" y="382.5"/><use href="#m" x="802.5" y="382.5"/><use href="#m" x="804.5" y="387.5"/><use href="#m" x="804.5" y="385.5"/><use href="#m" x="806.5" y="385.5"/><use href="#m" x="807.5" y="384.5"/><use href="#m" x="809.5" y="383.5"/><use href="#m" x="810.5" y="383.5"/><use href="#m" x="810.5" y="385.5"/><use href="#m" x="813.5" y="384.5"/><use href="#m" x="815.5" y="378.5"/><use href="#m" x="817.5" y="380.5"/><use href="#m" x="818.5" y="379.5"/><use href="#m" x="820.5" y="376.5"/><use href="#m" x="819.5" y="376.5"/><use href="#m" x="821.5" y="377.5"/><use href="#m" x="823.5" y="374.5"/><use href="#m" x="824.5" y="376.5"/><use href="#m" x="825.5" y="376.5"/><use href="#m" x="826.5" y="378.5"/><use href="#m" x="828.5" y="378.5"/><use href="#m" x="829.5" y="377.5"/><use href="#m" x="831.5" y="376.5"/><use href="#m" x="832.5" y="378.5"/><use href="#m" x="832.5" y="376.5"/><use href="#m" x="868.5" y="335.5"/><use href="#m" x="868.5" y="337.5"/><use href="#m" x="898.5" y="341.5"/><use href="#m" x="898.5" y="334.5"/><use href="#m" x="900.5" y="344.5"/><use href="#m" x="903.5" y="347.5"/><use href="#m" x="903.5" y="360.5"/><use href="#m" x="904.5" y="371.5"/><rect x="511.5" y="312.5" width="383" height="14" fill="#fff" stroke="#000" stroke-width="1"/><text x="701.6" y="322.95" text-anchor="middle" class="t">South Sta-1 Oct-4 Pedestals vrs Day (Packet 11036)</text></g>
<g><rect x="56.5" y="477.5" width="383" height="110" fill="none" stroke="#000" stroke-width="1"/><path d="M56.5 587.5V584M64.5 587.5V585M72.5 587.5V585M80.5 587.5V585M88.5 587.5V584M95.5 587.5V585M103.5 587.5V585M111.5 587.5V585M119.5 587.5V584M127.5 587.5V585M135.5 587.5V585M142.5 587.5V585M150.5 587.5V584M158.5 587.5V585M166.5 587.5V585M174.5 587.5V585M182.5 587.5V584M189.5 587.5V585M197.5 587.5V585M205.5 587.5V585M213.5 587.5V584M221.5 587.5V585M229.5 587.5V585M237.5 587.5V585M244.5 587.5V584M252.5 587.5V585M260.5 587.5V585M268.5 587.5V585M276.5 587.5V584M284.5 587.5V585M291.5 587.5V585M299.5 587.5V585M307.5 587.5V584M315.5 587.5V585M323.5 587.5V585M331.5 587.5V585M338.5 587.5V584M346.5 587.5V585M354.5 587.5V585M362.5 587.5V585M370.5 587.5V584M378.5 587.5V585M385.5 587.5V585M393.5 587.5V585M401.5 587.5V584M409.5 587.5V585M417.5 587.5V585M425.5 587.5V585M433.5 587.5V584M56.5 587.5H69M56.5 583.5H63M56.5 580.5H63M56.5 576.5H63M56.5 573.5H69M56.5 569.5H63M56.5 566.5H63M56.5 562.5H63M56.5 559.5H69M56.5 555.5H63M56.5 552.5H63M56.5 548.5H63M56.5 545.5H69M56.5 541.5H63M56.5 538.5H63M56.5 534.5H63M56.5 531.5H69M56.5 527.5H63M56.5 523.5H63M56.5 520.5H63M56.5 516.5H69M56.5 513.5H63M56.5 509.5H63M56.5 506.5H63M56.5 502.5H69M56.5 499.5H63M56.5 495.5H63M56.5 492.5H63M56.5 488.5H69M56.5 485.5H63M56.5 481.5H63M56.5 478.5H63" stroke="#000" stroke-width="1" fill="none"/><text x="54.1" y="589" text-anchor="end" class="l">1754</text><text x="54.1" y="575" text-anchor="end" class="l">1756</text><text x="54.1" y="561" text-anchor="end" class="l">1758</text><text x="54.1" y="547" text-anchor="end" class="l">1760</text><text x="54.1" y="533" text-anchor="end" class="l">1762</text><text x="54.1" y="519" text-anchor="end" class="l">1764</text><text x="54.1" y="505" text-anchor="end" class="l">1766</text><text x="54.1" y="490" text-anchor="end" class="l">1768</text><text x="55.7" y="596" text-anchor="middle" class="l">0</text><text x="87.06" y="596" text-anchor="middle" class="l">20</text><text x="118.42" y="596" text-anchor="middle" class="l">40</text><text x="149.78" y="596" text-anchor="middle" class="l">60</text><text x="181.14" y="596" text-anchor="middle" class="l">80</text><text x="212.5" y="596" text-anchor="middle" class="l">100</text><text x="243.86" y="596" text-anchor="middle" class="l">120</text><text x="275.22" y="596" text-anchor="middle" class="l">140</text><text x="306.58" y="596" text-anchor="middle" class="l">160</text><text x="337.94" y="596" text-anchor="middle" class="l">180</text><text x="369.3" y="596" text-anchor="middle" class="l">200</text><text x="400.66" y="596" text-anchor="middle" class="l">220</text><text x="432.02" y="596" text-anchor="middle" class="l">240</text><polyline points="63.5,519.5 71.5,510.5 83.5,514.5 88.5,520.5 102.5,539.5 104.5,539.5 113.5,550.5 116.5,554.5 117.5,559.5 120.5,555.5 121.5,555.5 123.5,555.5 123.5,556.5 125.5,565.5 126.5,565.5 127.5,567.5 129.5,565.5 129.5,566.5 130.5,564.5 132.5,561.5 132.5,557.5 134.5,559.5 135.5,562.5 137.5,562.5 138.5,565.5 140.5,566.5 141.5,567.5 142.5,566.5 144.5,559.5 147.5,566.5 148.5,564.5 149.5,567.5 151.5,567.5 152.5,567.5 152.5,569.5 154.5,566.5 155.5,561.5 158.5,570.5 161.5,572.5 162.5,569.5 163.5,578.5 165.5,575.5 166.5,574.5 168.5,572.5 170.5,570.5 171.5,570.5 172.5,570.5 174.5,560.5 176.5,560.5 177.5,562.5 179.5,565.5 181.5,566.5 182.5,565.5 184.5,565.5 184.5,566.5 187.5,561.5 190.5,565.5 192.5,568.5 191.5,556.5 193.5,568.5 194.5,567.5 195.5,568.5 196.5,565.5 198.5,568.5 199.5,566.5 199.5,577.5 201.5,568.5 203.5,565.5 203.5,566.5 206.5,572.5 207.5,572.5 209.5,576.5 210.5,576.5 213.5,577.5 214.5,579.5 215.5,577.5 217.5,572.5 217.5,572.5 218.5,574.5 220.5,574.5 221.5,575.5 222.5,577.5 225.5,569.5 226.5,568.5 228.5,568.5 229.5,570.5 231.5,570.5 232.5,572.5 234.5,555.5 236.5,560.5 237.5,575.5 240.5,574.5 242.5,570.5 242.5,549.5 243.5,568.5 245.5,564.5 245.5,562.5 246.5,561.5 248.5,560.5 248.5,560.5 250.5,561.5 251.5,562.5 251.5,563.5 253.5,565.5 254.5,563.5 256.5,559.5 257.5,554.5 257.5,552.5 258.5,546.5 259.5,540.5 260.5,539.5 260.5,541.5 260.5,542.5 261.5,545.5 261.5,548.5 262.5,553.5 263.5,556.5 264.5,557.5 265.5,559.5 268.5,545.5 269.5,547.5 269.5,552.5 270.5,554.5 271.5,556.5 274.5,550.5 276.5,549.5 278.5,549.5 279.5,548.5 280.5,550.5 281.5,550.5 282.5,548.5 284.5,551.5 286.5,549.5 287.5,548.5 289.5,550.5 290.5,548.5 292.5,547.5 292.5,547.5 293.5,547.5 295.5,547.5 297.5,543.5 298.5,543.5 300.5,541.5 301.5,543.5 302.5,542.5 303.5,542.5 304.5,544.5 305.5,548.5 306.5,549.5 308.5,549.5 309.5,545.5 309.5,545.5 312.5,544.5 315.5,550.5 315.5,552.5 317.5,546.5 318.5,544.5 319.5,543.5 320.5,542.5 322.5,541.5 321.5,540.5 323.5,542.5 325.5,538.5 326.5,541.5 327.5,539.5 328.5,541.5 330.5,540.5 331.5,539.5 331.5,539.5 334.5,538.5 370.5,497.5 370.5,498.5 400.5,501.5 400.5,486.5 401.5,504.5 405.5,507.5 405.5,513.5 406.5,524.5" fill="none" stroke="#00f" stroke-width="1" shape-rendering="crispEdges"/><use href="#m" x="63.5" y="519.5"/><use href="#m" x="71.5" y="510.5"/><use href="#m" x="83.5" y="514.5"/><use href="#m" x="88.5" y="520.5"/><use href="#m" x="102.5" y="539.5"/><use href="#m" x="104.5" y="539.5"/><use href="#m" x="113.5" y="550.5"/><use href="#m" x="116.5" y="554.5"/><use href="#m" x="117.5" y="559.5"/><use href="#m" x="120.5" y="555.5"/><use href="#m" x="121.5" y="555.5"/><use href="#m" x="123.5" y="555.5"/><use href="#m" x="123.5" y="556.5"/><use href="#m" x="125.5" y="565.5"/><use href="#m" x="126.5" y="565.5"/><use href="#m" x="127.5" y="567.5"/><use href="#m" x="129.5" y="565.5"/><use href="#m" x="129.5" y="566.5"/><use href="#m" x="130.5" y="564.5"/><use href="#m" x="132.5" y="561.5"/><use href="#m" x="132.5" y="557.5"/><use href="#m" x="134.5" y="559.5"/><use href="#m" x="135.5" y="562.5"/><use href="#m" x="137.5" y="562.5"/><use href="#m" x="138.5" y="565.5"/><use href="#m" x="140.5" y="566.5"/><use href="#m" x="141.5" y="567.5"/><use href="#m" x="142.5" y="566.5"/><use href="#m" x="144.5" y="559.5"/><use href="#m" x="147.5" y="566.5"/><use href="#m" x="148.5" y="564.5"/><use href="#m" x="149.5" y="567.5"/><use href="#m" x="151.5" y="567.5"/><use href="#m" x="152.5" y="567.5"/><use href="#m" x="152.5" y="569.5"/><use href="#m" x="154.5" y="566.5"/><use href="#m" x="155.5" y="561.5"/><use href="#m" x="158.5" y="570.5"/><use href="#m" x="161.5" y="572.5"/><use href="#m" x="162.5" y="569.5"/><use href="#m" x="163.5" y="578.5"/><use href="#m" x="165.5" y="575.5"/><use href="#m" x="166.5" y="574.5"/><use href="#m" x="168.5" y="572.5"/><use href="#m" x="170.5" y="570.5"/><use href="#m" x="171.5" y="570.5"/><use href="#m" x="172.5" y="570.5"/><use href="#m" x="174.5" y="560.5"/><use href="#m" x="176.5" y="560.5"/><use href="#m" x="177.5" y="562.5"/><use href="#m" x="179.5" y="565.5"/><use href="#m" x="181.5" y="566.5"/><use href="#m" x="182.5" y="565.5"/><use href="#m" x="184.5" y="565.5"/><use href="#m" x="184.5" y="566.5"/><use href="#m" x="187.5" y="561.5"/><use href="#m" x="190.5" y="565.5"/><use href="#m" x="192.5" y="568.5"/><use href="#m" x="191.5" y="556.5"/><use href="#m" x="193.5" y="568.5"/><use href="#m" x="194.5" y="567.5"/><use href="#m" x="195.5" y="568.5"/><use href="#m" x="196.5" y="565.5"/><use href="#m" x="198.5" y="568.5"/><use href="#m" x="199.5" y="566.5"/><use href="#m" x="199.5" y="577.5"/><use href="#m" x="201.5" y="568.5"/><use href="#m" x="203.5" y="565.5"/><use href="#m" x="203.5" y="566.5"/><use href="#m" x="206.5" y="572.5"/><use href="#m" x="207.5" y="572.5"/><use href="#m" x="209.5" y="576.5"/><use href="#m" x="210.5" y="576.5"/><use href="#m" x="213.5" y="577.5"/><use href="#m" x="214.5" y="579.5"/><use href="#m" x="215.5" y="577.5"/><use href="#m" x="217.5" y="572.5"/><use href="#m" x="217.5" y="572.5"/><use href="#m" x="218.5" y="574.5"/><use href="#m" x="220.5" y="574.5"/><use href="#m" x="221.5" y="575.5"/><use href="#m" x="222.5" y="577.5"/><use href="#m" x="225.5" y="569.5"/><use href="#m" x="226.5" y="568.5"/><use href="#m" x="228.5" y="568.5"/><use href="#m" x="229.5" y="570.5"/><use href="#m" x="231.5" y="570.5"/><use href="#m" x="232.5" y="572.5"/><use href="#m" x="234.5" y="555.5"/><use href="#m" x="236.5" y="560.5"/><use href="#m" x="237.5" y="575.5"/><use href="#m" x="240.5" y="574.5"/><use href="#m" x="242.5" y="570.5"/><use href="#m" x="242.5" y="549.5"/><use href="#m" x="243.5" y="568.5"/><use href="#m" x="245.5" y="564.5"/><use href="#m" x="245.5" y="562.5"/><use href="#m" x="246.5" y="561.5"/><use href="#m" x="248.5" y="560.5"/><use href="#m" x="248.5" y="560.5"/><use href="#m" x="250.5" y="561.5"/><use href="#m" x="251.5" y="562.5"/><use href="#m" x="251.5" y="563.5"/><use href="#m" x="253.5" y="565.5"/><use href="#m" x="254.5" y="563.5"/><use href="#m" x="256.5" y="559.5"/><use href="#m" x="257.5" y="554.5"/><use href="#m" x="257.5" y="552.5"/><use href="#m" x="258.5" y="546.5"/><use href="#m" x="259.5" y="540.5"/><use href="#m" x="260.5" y="539.5"/><use href="#m" x="260.5" y="541.5"/><use href="#m" x="260.5" y="542.5"/><use href="#m" x="261.5" y="545.5"/><use href="#m" x="261.5" y="548.5"/><use href="#m" x="262.5" y="553.5"/><use href="#m" x="263.5" y="556.5"/><use href="#m" x="264.5" y="557.5"/><use href="#m" x="265.5" y="559.5"/><use href="#m" x="268.5" y="545.5"/><use href="#m" x="269.5" y="547.5"/><use href="#m" x="269.5" y="552.5"/><use href="#m" x="270.5" y="554.5"/><use href="#m" x="271.5" y="556.5"/><use href="#m" x="274.5" y="550.5"/><use href="#m" x="276.5" y="549.5"/><use href="#m" x="278.5" y="549.5"/><use href="#m" x="279.5" y="548.5"/><use href="#m" x="280.5" y="550.5"/><use href="#m" x="281.5" y="550.5"/><use href="#m" x="282.5" y="548.5"/><use href="#m" x="284.5" y="551.5"/><use href="#m" x="286.5" y="549.5"/><use href="#m" x="287.5" y="548.5"/><use href="#m" x="289.5" y="550.5"/><use href="#m" x="290.5" y="548.5"/><use href="#m" x="292.5" y="547.5"/><use href="#m" x="292.5" y="547.5"/><use href="#m" x="293.5" y="547.5"/><use href="#m" x="295.5" y="547.5"/><use href="#m" x="297.5" y="543.5"/><use href="#m" x="298.5" y="543.5"/><use href="#m" x="300.5" y="541.5"/><use href="#m" x="301.5" y="543.5"/><use href="#m" x="302.5" y="542.5"/><use href="#m" x="303.5" y="542.5"/><use href="#m" x="304.5" y="544.5"/><use href="#m" x="305.5" y="548.5"/><use href="#m" x="306.5" y="549.5"/><use href="#m" x="308.5" y="549.5"/><use href="#m" x="309.5" y="545.5"/><use href="#m" x="309.5" y="545.5"/><use href="#m" x="312.5" y="544.5"/><use href="#m" x="315.5" y="550.5"/><use href="#m" x="315.5" y="552.5"/><use href="#m" x="317.5" y="546.5"/><use href="#m" x="318.5" y="544.5"/><use href="#m" x="319.5" y="543.5"/><use href="#m" x="320.5" y="542.5"/><use href="#m" x="322.5" y="541.5"/><use href="#m" x="321.5" y="540.5"/><use href="#m" x="323.5" y="542.5"/><use href="#m" x="325.5" y="538.5"/><use href="#m" x="326.5" y="541.5"/><use href="#m" x="327.5" y="539.5"/><use href="#m" x="328.5" y="541.5"/><use href="#m" x="330.5" y="540.5"/><use href="#m" x="331.5" y="539.5"/><use href="#m" x="331.5" y="539.5"/><use href="#m" x="334.5" y="538.5"/><use href="#m" x="370.5" y="497.5"/><use href="#m" x="370.5" y="498.5"/><use href="#m" x="400.5" y="501.5"/><use href="#m" x="400.5" y="486.5"/><use href="#m" x="401.5" y="504.5"/><use href="#m" x="405.5" y="507.5"/><use href="#m" x="405.5" y="513.5"/><use href="#m" x="406.5" y="524.5"/><rect x="13.5" y="464.5" width="383" height="14" fill="#fff" stroke="#000" stroke-width="1"/><text x="203.6" y="474.95" text-anchor="middle" class="t">South Sta-1 Oct-4 Pedestals vrs Day (Packet 11037)</text></g>
<g><rect x="554.5" y="477.5" width="383" height="110" fill="none" stroke="#000" stroke-width="1"/><path d="M554.5 587.5V584M562.5 587.5V585M570.5 587.5V585M578.5 587.5V585M586.5 587.5V584M593.5 587.5V585M601.5 587.5V585M609.5 587.5V585M617.5 587.5V584M625.5 587.5V585M633.5 587.5V585M640.5 587.5V585M648.5 587.5V584M656.5 587.5V585M664.5 587.5V585M672.5 587.5V585M680.5 587.5V584M687.5 587.5V585M695.5 587.5V585M703.5 587.5V585M711.5 587.5V584M719.5 587.5V585M727.5 587.5V585M735.5 587.5V585M742.5 587.5V584M750.5 587.5V585M758.5 587.5V585M766.5 587.5V585M774.5 587.5V584M782.5 587.5V585M789.5 587.5V585M797.5 587.5V585M805.5 587.5V584M813.5 587.5V585M821.5 587.5V585M829.5 587.5V585M836.5 587.5V584M844.5 587.5V585M852.5 587.5V585M860.5 587.5V585M868.5 587.5V584M876.5 587.5V585M883.5 587.5V585M891.5 587.5V585M899.5 587.5V584M907.5 587.5V585M915.5 587.5V585M923.5 587.5V585M931.5 587.5V584M554.5 587.5H567M554.5 584.5H561M554.5 581.5H561M554.5 578.5H561M554.5 576.5H567M554.5 573.5H561M554.5 570.5H561M554.5 567.5H561M554.5 564.5H567M554.5 561.5H561M554.5 558.5H561M554.5 556.5H561M554.5 553.5H567M554.5 550.5H561M554.5 547.5H561M554.5 544.5H561M554.5 541.5H567M554.5 538.5H561M554.5 536.5H561M554.5 533.5H561M554.5 530.5H567M554.5 527.5H561M554.5 524.5H561M554.5 521.5H561M554.5 518.5H567M554.5 516.5H561M554.5 513.5H561M554.5 510.5H561M554.5 507.5H567M554.5 504.5H561M554.5 501.5H561M554.5 498.5H561M554.5 495.5H567M554.5 493.5H561M554.5 490.5H561M554.5 487.5H561M554.5 484.5H567M554.5 481.5H561M554.5 478.5H561" stroke="#000" stroke-width="1" fill="none"/><text x="552.1" y="578" text-anchor="end" class="l">1842</text><text x="552.1" y="567" text-anchor="end" class="l">1844</text><text x="552.1" y="555" text-anchor="end" class="l">1846</text><text x="552.1" y="544" text-anchor="end" class="l">1848</text><text x="552.1" y="533" text-anchor="end" class="l">1850</text><text x="552.1" y="521" text-anchor="end" class="l">1852</text><text x="552.1" y="510" text-anchor="end" class="l">1854</text><text x="552.1" y="498" text-anchor="end" class="l">1856</text><text x="552.1" y="487" text-anchor="end" class="l">1858</text><text x="553.7" y="596" text-anchor="middle" class="l">0</text><text x="585.06" y="596" text-anchor="middle" class="l">20</text><text x="616.42" y="596" text-anchor="middle" class="l">40</text><text x="647.78" y="596" text-anchor="middle" class="l">60</text><text x="679.14" y="596" text-anchor="middle" class="l">80</text><text x="710.5" y="596" text-anchor="middle" class="l">100</text><text x="741.86" y="596" text-anchor="middle" class="l">120</text><text x="773.22" y="596" text-anchor="middle" class="l">140</text><text x="804.58" y="596" text-anchor="middle" class="l">160</text><text x="835.94" y="596" text-anchor="middle" class="l">180</text><text x="867.3" y="596" text-anchor="middle" class="l">200</text><text x="898.66" y="596" text-anchor="middle" class="l">220</text><text x="930.02" y="596" text-anchor="middle" class="l">240</text><polyline points="561.5,534.5 569.5,531.5 581.5,521.5 586.5,526.5 600.5,538.5 602.5,538.5 611.5,546.5 613.5,556.5 614.5,554.5 616.5,557.5 617.5,554.5 617.5,555.5 619.5,555.5 621.5,551.5 621.5,550.5 623.5,560.5 624.5,562.5 625.5,565.5 627.5,566.5 627.5,566.5 628.5,563.5 630.5,555.5 630.5,553.5 632.5,554.5 633.5,556.5 635.5,559.5 636.5,563.5 638.5,562.5 639.5,565.5 640.5,564.5 642.5,555.5 644.5,563.5 646.5,564.5 647.5,566.5 649.5,567.5 650.5,565.5 650.5,568.5 652.5,569.5 653.5,570.5 653.5,555.5 655.5,571.5 656.5,569.5 657.5,570.5 658.5,573.5 660.5,573.5 660.5,559.5 661.5,572.5 661.5,573.5 663.5,571.5 664.5,567.5 665.5,566.5 666.5,568.5 668.5,569.5 668.5,570.5 671.5,565.5 672.5,555.5 674.5,554.5 675.5,558.5 677.5,557.5 679.5,558.5 680.5,559.5 682.5,560.5 682.5,559.5 683.5,557.5 685.5,557.5 686.5,556.5 686.5,556.5 688.5,558.5 690.5,562.5 689.5,547.5 691.5,564.5 692.5,566.5 693.5,568.5 694.5,568.5 696.5,568.5 697.5,569.5 697.5,571.5 699.5,572.5 701.5,568.5 701.5,559.5 702.5,567.5 704.5,571.5 704.5,568.5 705.5,567.5 707.5,570.5 708.5,572.5 711.5,571.5 712.5,571.5 713.5,568.5 715.5,569.5 715.5,567.5 716.5,567.5 718.5,568.5 719.5,567.5 720.5,566.5 721.5,567.5 722.5,567.5 724.5,566.5 725.5,566.5 726.5,568.5 727.5,566.5 729.5,565.5 730.5,565.5 732.5,564.5 732.5,547.5 733.5,561.5 734.5,558.5 735.5,577.5 735.5,576.5 738.5,561.5 740.5,561.5 740.5,544.5 741.5,559.5 743.5,557.5 743.5,557.5 744.5,557.5 746.5,556.5 746.5,555.5 748.5,557.5 749.5,559.5 749.5,560.5 751.5,562.5 752.5,562.5 754.5,557.5 755.5,552.5 755.5,548.5 756.5,540.5 757.5,534.5 758.5,531.5 758.5,532.5 758.5,535.5 758.5,537.5 759.5,541.5 760.5,549.5 761.5,550.5 762.5,555.5 763.5,558.5 764.5,557.5 765.5,559.5 766.5,536.5 767.5,545.5 768.5,546.5 769.5,547.5 771.5,547.5 773.5,548.5 774.5,546.5 774.5,545.5 776.5,543.5 777.5,544.5 779.5,543.5 780.5,546.5 780.5,544.5 782.5,544.5 784.5,546.5 785.5,545.5 787.5,545.5 786.5,545.5 788.5,545.5 790.5,543.5 791.5,543.5 792.5,541.5 793.5,542.5 795.5,540.5 796.5,543.5 798.5,539.5 799.5,542.5 799.5,541.5 801.5,543.5 802.5,540.5 804.5,545.5 804.5,543.5 806.5,543.5 807.5,543.5 809.5,543.5 810.5,543.5 810.5,542.5 813.5,547.5 813.5,547.5 815.5,543.5 816.5,541.5 817.5,539.5 818.5,539.5 820.5,540.5 819.5,538.5 821.5,540.5 823.5,539.5 824.5,537.5 825.5,539.5 826.5,538.5 828.5,540.5 829.5,539.5 829.5,539.5 832.5,537.5 868.5,496.5 868.5,499.5 898.5,499.5 898.5,486.5 899.5,504.5 903.5,511.5 902.5,519.5 904.5,532.5" fill="none" stroke="#00f" stroke-width="1" shape-rendering="crispEdges"/><use href="#m" x="561.5" y="534.5"/><use href="#m" x="569.5" y="531.5"/><use href="#m" x="581.5" y="521.5"/><use href="#m" x="586.5" y="526.5"/><use href="#m" x="600.5" y="538.5"/><use href="#m" x="602.5" y="538.5"/><use href="#m" x="611.5" y="546.5"/><use href="#m" x="613.5" y="556.5"/><use href="#m" x="614.5" y="554.5"/><use href="#m" x="616.5" y="557.5"/><use href="#m" x="617.5" y="554.5"/><use href="#m" x="617.5" y="555.5"/><use href="#m" x="619.5" y="555.5"/><use href="#m" x="621.5" y="551.5"/><use href="#m" x="621.5" y="550.5"/><use href="#m" x="623.5" y="560.5"/><use href="#m" x="624.5" y="562.5"/><use href="#m" x="625.5" y="565.5"/><use href="#m" x="627.5" y="566.5"/><use href="#m" x="627.5" y="566.5"/><use href="#m" x="628.5" y="563.5"/><use href="#m" x="630.5" y="555.5"/><use href="#m" x="630.5" y="553.5"/><use href="#m" x="632.5" y="554.5"/><use href="#m" x="633.5" y="556.5"/><use href="#m" x="635.5" y="559.5"/><use href="#m" x="636.5" y="563.5"/><use href="#m" x="638.5" y="562.5"/><use href="#m" x="639.5" y="565.5"/><use href="#m" x="640.5" y="564.5"/><use href="#m" x="642.5" y="555.5"/><use href="#m" x="644.5" y="563.5"/><use href="#m" x="646.5" y="564.5"/><use href="#m" x="647.5" y="566.5"/><use href="#m" x="649.5" y="567.5"/><use href="#m" x="650.5" y="565.5"/><use href="#m" x="650.5" y="568.5"/><use href="#m" x="652.5" y="569.5"/><use href="#m" x="653.5" y="570.5"/><use href="#m" x="653.5" y="555.5"/><use href="#m" x="655.5" y="571.5"/><use href="#m" x="656.5" y="569.5"/><use href="#m" x="657.5" y="570.5"/><use href="#m" x="658.5" y="573.5"/><use href="#m" x="660.5" y="573.5"/><use href="#m" x="660.5" y="559.5"/><use href="#m" x="661.5" y="572.5"/><use href="#m" x="661.5" y="573.5"/><use href="#m" x="663.5" y="571.5"/><use href="#m" x="664.5" y="567.5"/><use href="#m" x="665.5" y="566.5"/><use href="#m" x="666.5" y="568.5"/><use href="#m" x="668.5" y="569.5"/><use href="#m" x="668.5" y="570.5"/><use href="#m" x="671.5" y="565.5"/><use href="#m" x="672.5" y="555.5"/><use href="#m" x="674.5" y="554.5"/><use href="#m" x="675.5" y="558.5"/><use href="#m" x="677.5" y="557.5"/><use href="#m" x="679.5" y="558.5"/><use href="#m" x="680.5" y="559.5"/><use href="#m" x="682.5" y="560.5"/><use href="#m" x="682.5" y="559.5"/><use href="#m" x="683.5" y="557.5"/><use href="#m" x="685.5" y="557.5"/><use href="#m" x="686.5" y="556.5"/><use href="#m" x="686.5" y="556.5"/><use href="#m" x="688.5" y="558.5"/><use href="#m" x="690.5" y="562.5"/><use href="#m" x="689.5" y="547.5"/><use href="#m" x="691.5" y="564.5"/><use href="#m" x="692.5" y="566.5"/><use href="#m" x="693.5" y="568.5"/><use href="#m" x="694.5" y="568.5"/><use href="#m" x="696.5" y="568.5"/><use href="#m" x="697.5" y="569.5"/><use href="#m" x="697.5" y="571.5"/><use href="#m" x="699.5" y="572.5"/><use href="#m" x="701.5" y="568.5"/><use href="#m" x="701.5" y="559.5"/><use href="#m" x="702.5" y="567.5"/><use href="#m" x="704.5" y="571.5"/><use href="#m" x="704.5" y="568.5"/><use href="#m" x="705.5" y="567.5"/><use href="#m" x="707.5" y="570.5"/><use href="#m" x="708.5" y="572.5"/><use href="#m" x="711.5" y="571.5"/><use href="#m" x="712.5" y="571.5"/><use href="#m" x="713.5" y="568.5"/><use href="#m" x="715.5" y="569.5"/><use href="#m" x="715.5" y="567.5"/><use href="#m" x="716.5" y="567.5"/><use href="#m" x="718.5" y="568.5"/><use href="#m" x="719.5" y="567.5"/><use href="#m" x="720.5" y="566.5"/><use href="#m" x="721.5" y="567.5"/><use href="#m" x="722.5" y="567.5"/><use href="#m" x="724.5" y="566.5"/><use href="#m" x="725.5" y="566.5"/><use href="#m" x="726.5" y="568.5"/><use href="#m" x="727.5" y="566.5"/><use href="#m" x="729.5" y="565.5"/><use href="#m" x="730.5" y="565.5"/><use href="#m" x="732.5" y="564.5"/><use href="#m" x="732.5" y="547.5"/><use href="#m" x="733.5" y="561.5"/><use href="#m" x="734.5" y="558.5"/><use href="#m" x="735.5" y="577.5"/><use href="#m" x="735.5" y="576.5"/><use href="#m" x="738.5" y="561.5"/><use href="#m" x="740.5" y="561.5"/><use href="#m" x="740.5" y="544.5"/><use href="#m" x="741.5" y="559.5"/><use href="#m" x="743.5" y="557.5"/><use href="#m" x="743.5" y="557.5"/><use href="#m" x="744.5" y="557.5"/><use href="#m" x="746.5" y="556.5"/><use href="#m" x="746.5" y="555.5"/><use href="#m" x="748.5" y="557.5"/><use href="#m" x="749.5" y="559.5"/><use href="#m" x="749.5" y="560.5"/><use href="#m" x="751.5" y="562.5"/><use href="#m" x="752.5" y="562.5"/><use href="#m" x="754.5" y="557.5"/><use href="#m" x="755.5" y="552.5"/><use href="#m" x="755.5" y="548.5"/><use href="#m" x="756.5" y="540.5"/><use href="#m" x="757.5" y="534.5"/><use href="#m" x="758.5" y="531.5"/><use href="#m" x="758.5" y="532.5"/><use href="#m" x="758.5" y="535.5"/><use href="#m" x="758.5" y="537.5"/><use href="#m" x="759.5" y="541.5"/><use href="#m" x="760.5" y="549.5"/><use href="#m" x="761.5" y="550.5"/><use href="#m" x="762.5" y="555.5"/><use href="#m" x="763.5" y="558.5"/><use href="#m" x="764.5" y="557.5"/><use href="#m" x="765.5" y="559.5"/><use href="#m" x="766.5" y="536.5"/><use href="#m" x="767.5" y="545.5"/><use href="#m" x="768.5" y="546.5"/><use href="#m" x="769.5" y="547.5"/><use href="#m" x="771.5" y="547.5"/><use href="#m" x="773.5" y="548.5"/><use href="#m" x="774.5" y="546.5"/><use href="#m" x="774.5" y="545.5"/><use href="#m" x="776.5" y="543.5"/><use href="#m" x="777.5" y="544.5"/><use href="#m" x="779.5" y="543.5"/><use href="#m" x="780.5" y="546.5"/><use href="#m" x="780.5" y="544.5"/><use href="#m" x="782.5" y="544.5"/><use href="#m" x="784.5" y="546.5"/><use href="#m" x="785.5" y="545.5"/><use href="#m" x="787.5" y="545.5"/><use href="#m" x="786.5" y="545.5"/><use href="#m" x="788.5" y="545.5"/><use href="#m" x="790.5" y="543.5"/><use href="#m" x="791.5" y="543.5"/><use href="#m" x="792.5" y="541.5"/><use href="#m" x="793.5" y="542.5"/><use href="#m" x="795.5" y="540.5"/><use href="#m" x="796.5" y="543.5"/><use href="#m" x="798.5" y="539.5"/><use href="#m" x="799.5" y="542.5"/><use href="#m" x="799.5" y="541.5"/><use href="#m" x="801.5" y="543.5"/><use href="#m" x="802.5" y="540.5"/><use href="#m" x="804.5" y="545.5"/><use href="#m" x="804.5" y="543.5"/><use href="#m" x="806.5" y="543.5"/><use href="#m" x="807.5" y="543.5"/><use href="#m" x="809.5" y="543.5"/><use href="#m" x="810.5" y="543.5"/><use href="#m" x="810.5" y="542.5"/><use href="#m" x="813.5" y="547.5"/><use href="#m" x="813.5" y="547.5"/><use href="#m" x="815.5" y="543.5"/><use href="#m" x="816.5" y="541.5"/><use href="#m" x="817.5" y="539.5"/><use href="#m" x="818.5" y="539.5"/><use href="#m" x="820.5" y="540.5"/><use href="#m" x="819.5" y="538.5"/><use href="#m" x="821.5" y="540.5"/><use href="#m" x="823.5" y="539.5"/><use href="#m" x="824.5" y="537.5"/><use href="#m" x="825.5" y="539.5"/><use href="#m" x="826.5" y="538.5"/><use href="#m" x="828.5" y="540.5"/><use href="#m" x="829.5" y="539.5"/><use href="#m" x="829.5" y="539.5"/><use href="#m" x="832.5" y="537.5"/><use href="#m" x="868.5" y="496.5"/><use href="#m" x="868.5" y="499.5"/><use href="#m" x="898.5" y="499.5"/><use href="#m" x="898.5" y="486.5"/><use href="#m" x="899.5" y="504.5"/><use href="#m" x="903.5" y="511.5"/><use href="#m" x="902.5" y="519.5"/><use href="#m" x="904.5" y="532.5"/><rect x="511.5" y="464.5" width="383" height="14" fill="#fff" stroke="#000" stroke-width="1"/><text x="701.6" y="474.95" text-anchor="middle" class="t">South Sta-1 Oct-4 Pedestals vrs Day (Packet 11038)</text></g>
<g><rect x="56.5" y="630.5" width="383" height="110" fill="none" stroke="#000" stroke-width="1"/><path d="M56.5 740.5V737M64.5 740.5V738M72.5 740.5V738M80.5 740.5V738M88.5 740.5V737M95.5 740.5V738M103.5 740.5V738M111.5 740.5V738M119.5 740.5V737M127.5 740.5V738M135.5 740.5V738M142.5 740.5V738M150.5 740.5V737M158.5 740.5V738M166.5 740.5V738M174.5 740.5V738M182.5 740.5V737M189.5 740.5V738M197.5 740.5V738M205.5 740.5V738M213.5 740.5V737M221.5 740.5V738M229.5 740.5V738M237.5 740.5V738M244.5 740.5V737M252.5 740.5V738M260.5 740.5V738M268.5 740.5V738M276.5 740.5V737M284.5 740.5V738M291.5 740.5V738M299.5 740.5V738M307.5 740.5V737M315.5 740.5V738M323.5 740.5V738M331.5 740.5V738M338.5 740.5V737M346.5 740.5V738M354.5 740.5V738M362.5 740.5V738M370.5 740.5V737M378.5 740.5V738M385.5 740.5V738M393.5 740.5V738M401.5 740.5V737M409.5 740.5V738M417.5 740.5V738M425.5 740.5V738M433.5 740.5V737M56.5 738.5H63M56.5 735.5H69M56.5 732.5H63M56.5 729.5H63M56.5 726.5H63M56.5 723.5H69M56.5 719.5H63M56.5 716.5H63M56.5 713.5H63M56.5 710.5H69M56.5 707.5H63M56.5 704.5H63M56.5 701.5H63M56.5 698.5H69M56.5 695.5H63M56.5 692.5H63M56.5 689.5H63M56.5 685.5H69M56.5 682.5H63M56.5 679.5H63M56.5 676.5H63M56.5 673.5H69M56.5 670.5H63M56.5 667.5H63M56.5 664.5H63M56.5 661.5H69M56.5 658.5H63M56.5 655.5H63M56.5 651.5H63M56.5 648.5H69M56.5 645.5H63M56.5 642.5H63M56.5 639.5H63M56.5 636.5H69M56.5 633.5H63M56.5 630.5H63" stroke="#000" stroke-width="1" fill="none"/><text x="54.1" y="737" text-anchor="end" class="l">1788</text><text x="54.1" y="724" text-anchor="end" class="l">1790</text><text x="54.1" y="712" text-anchor="end" class="l">1792</text><text x="54.1" y="700" text-anchor="end" class="l">1794</text><text x="54.1" y="687" text-anchor="end" class="l">1796</text><text x="54.1" y="675" text-anchor="end" class="l">1798</text><text x="54.1" y="662" text-anchor="end" class="l">1800</text><text x="54.1" y="650" text-anchor="end" class="l">1802</text><text x="54.1" y="638" text-anchor="end" class="l">1804</text><text x="55.7" y="749" text-anchor="middle" class="l">0</text><text x="87.06" y="749" text-anchor="middle" class="l">20</text><text x="118.42" y="749" text-anchor="middle" class="l">40</text><text x="149.78" y="749" text-anchor="middle" class="l">60</text><text x="181.14" y="749" text-anchor="middle" class="l">80</text><text x="212.5" y="749" text-anchor="middle" class="l">100</text><text x="243.86" y="749" text-anchor="middle" class="l">120</text><text x="275.22" y="749" text-anchor="middle" class="l">140</text><text x="306.58" y="749" text-anchor="middle" class="l">160</text><text x="337.94" y="749" text-anchor="middle" class="l">180</text><text x="369.3" y="749" text-anchor="middle" class="l">200</text><text x="400.66" y="749" text-anchor="middle" class="l">220</text><text x="432.02" y="749" text-anchor="middle" class="l">240</text><polyline points="63.5,674.5 71.5,668.5 83.5,676.5 88.5,680.5 102.5,693.5 103.5,696.5 113.5,708.5 116.5,709.5 115.5,714.5 116.5,717.5 118.5,717.5 119.5,719.5 119.5,719.5 121.5,717.5 123.5,715.5 123.5,712.5 125.5,720.5 126.5,722.5 127.5,721.5 129.5,722.5 129.5,722.5 130.5,724.5 132.5,723.5 134.5,720.5 134.5,713.5 135.5,723.5 137.5,722.5 138.5,722.5 140.5,723.5 141.5,724.5 142.5,723.5 144.5,716.5 146.5,722.5 148.5,722.5 149.5,722.5 151.5,723.5 152.5,723.5 152.5,725.5 154.5,723.5 155.5,724.5 155.5,714.5 157.5,723.5 158.5,724.5 159.5,723.5 160.5,724.5 162.5,723.5 162.5,721.5 163.5,730.5 165.5,727.5 166.5,729.5 168.5,726.5 170.5,724.5 171.5,723.5 172.5,721.5 174.5,715.5 176.5,714.5 177.5,715.5 179.5,717.5 181.5,717.5 182.5,719.5 184.5,718.5 184.5,717.5 185.5,719.5 187.5,718.5 188.5,716.5 188.5,716.5 190.5,718.5 192.5,716.5 191.5,706.5 193.5,716.5 194.5,717.5 195.5,717.5 196.5,715.5 198.5,717.5 199.5,718.5 199.5,727.5 201.5,718.5 203.5,717.5 203.5,716.5 206.5,723.5 207.5,726.5 209.5,726.5 210.5,728.5 213.5,729.5 214.5,727.5 215.5,726.5 217.5,725.5 217.5,722.5 218.5,723.5 220.5,723.5 221.5,722.5 222.5,724.5 223.5,722.5 224.5,723.5 226.5,720.5 226.5,719.5 228.5,721.5 229.5,718.5 231.5,718.5 232.5,720.5 234.5,705.5 236.5,711.5 237.5,714.5 237.5,727.5 239.5,713.5 240.5,715.5 240.5,716.5 242.5,713.5 242.5,698.5 243.5,711.5 245.5,708.5 245.5,709.5 246.5,708.5 248.5,709.5 248.5,707.5 250.5,710.5 251.5,712.5 251.5,712.5 253.5,714.5 254.5,715.5 256.5,710.5 257.5,707.5 257.5,701.5 258.5,696.5 259.5,690.5 260.5,686.5 260.5,689.5 260.5,690.5 261.5,692.5 261.5,697.5 262.5,699.5 263.5,705.5 264.5,707.5 265.5,711.5 266.5,715.5 267.5,713.5 268.5,694.5 269.5,697.5 269.5,700.5 270.5,703.5 271.5,702.5 273.5,700.5 275.5,703.5 276.5,701.5 276.5,701.5 278.5,701.5 279.5,699.5 281.5,702.5 282.5,700.5 282.5,700.5 284.5,699.5 286.5,699.5 287.5,698.5 289.5,700.5 288.5,698.5 290.5,696.5 292.5,698.5 293.5,699.5 294.5,696.5 295.5,695.5 297.5,695.5 298.5,696.5 300.5,696.5 301.5,693.5 303.5,694.5 304.5,694.5 306.5,696.5 306.5,696.5 308.5,698.5 309.5,696.5 311.5,695.5 312.5,697.5 312.5,696.5 315.5,701.5 315.5,703.5 317.5,697.5 318.5,694.5 319.5,693.5 320.5,692.5 322.5,691.5 321.5,690.5 323.5,690.5 325.5,690.5 326.5,691.5 327.5,691.5 328.5,692.5 330.5,690.5 331.5,689.5 331.5,690.5 334.5,688.5 370.5,646.5 370.5,647.5 400.5,651.5 400.5,639.5 401.5,656.5 405.5,659.5 405.5,666.5 406.5,674.5" fill="none" stroke="#00f" stroke-width="1" shape-rendering="crispEdges"/><use href="#m" x="63.5" y="674.5"/><use href="#m" x="71.5" y="668.5"/><use href="#m" x="83.5" y="676.5"/><use href="#m" x="88.5" y="680.5"/><use href="#m" x="102.5" y="693.5"/><use href="#m" x="103.5" y="696.5"/><use href="#m" x="113.5" y="708.5"/><use href="#m" x="116.5" y="709.5"/><use href="#m" x="115.5" y="714.5"/><use href="#m" x="116.5" y="717.5"/><use href="#m" x="118.5" y="717.5"/><use href="#m" x="119.5" y="719.5"/><use href="#m" x="119.5" y="719.5"/><use href="#m" x="121.5" y="717.5"/><use href="#m" x="123.5" y="715.5"/><use href="#m" x="123.5" y="712.5"/><use href="#m" x="125.5" y="720.5"/><use href="#m" x="126.5" y="722.5"/><use href="#m" x="127.5" y="721.5"/><use href="#m" x="129.5" y="722.5"/><use href="#m" x="129.5" y="722.5"/><use href="#m" x="130.5" y="724.5"/><use href="#m" x="132.5" y="723.5"/><use href="#m" x="134.5" y="720.5"/><use href="#m" x="134.5" y="713.5"/><use href="#m" x="135.5" y="723.5"/><use href="#m" x="137.5" y="722.5"/><use href="#m" x="138.5" y="722.5"/><use href="#m" x="140.5" y="723.5"/><use href="#m" x="141.5" y="724.5"/><use href="#m" x="142.5" y="723.5"/><use href="#m" x="144.5" y="716.5"/><use href="#m" x="146.5" y="722.5"/><use href="#m" x="148.5" y="722.5"/><use href="#m" x="149.5" y="722.5"/><use href="#m" x="151.5" y="723.5"/><use href="#m" x="152.5" y="723.5"/><use href="#m" x="152.5" y="725.5"/><use href="#m" x="154.5" y="723.5"/><use href="#m" x="155.5" y="724.5"/><use href="#m" x="155.5" y="714.5"/><use href="#m" x="157.5" y="723.5"/><use href="#m" x="158.5" y="724.5"/><use href="#m" x="159.5" y="723.5"/><use href="#m" x="160.5" y="724.5"/><use href="#m" x="162.5" y="723.5"/><use href="#m" x="162.5" y="721.5"/><use href="#m" x="163.5" y="730.5"/><use href="#m" x="165.5" y="727.5"/><use href="#m" x="166.5" y="729.5"/><use href="#m" x="168.5" y="726.5"/><use href="#m" x="170.5" y="724.5"/><use href="#m" x="171.5" y="723.5"/><use href="#m" x="172.5" y="721.5"/><use href="#m" x="174.5" y="715.5"/><use href="#m" x="176.5" y="714.5"/><use href="#m" x="177.5" y="715.5"/><use href="#m" x="179.5" y="717.5"/><use href="#m" x="181.5" y="717.5"/><use href="#m" x="182.5" y="719.5"/><use href="#m" x="184.5" y="718.5"/><use href="#m" x="184.5" y="717.5"/><use href="#m" x="185.5" y="719.5"/><use href="#m" x="187.5" y="718.5"/><use href="#m" x="188.5" y="716.5"/><use href="#m" x="188.5" y="716.5"/><use href="#m" x="190.5" y="718.5"/><use href="#m" x="192.5" y="716.5"/><use href="#m" x="191.5" y="706.5"/><use href="#m" x="193.5" y="716.5"/><use href="#m" x="194.5" y="717.5"/><use href="#m" x="195.5" y="717.5"/><use href="#m" x="196.5" y="715.5"/><use href="#m" x="198.5" y="717.5"/><use href="#m" x="199.5" y="718.5"/><use href="#m" x="199.5" y="727.5"/><use href="#m" x="201.5" y="718.5"/><use href="#m" x="203.5" y="717.5"/><use href="#m" x="203.5" y="716.5"/><use href="#m" x="206.5" y="723.5"/><use href="#m" x="207.5" y="726.5"/><use href="#m" x="209.5" y="726.5"/><use href="#m" x="210.5" y="728.5"/><use href="#m" x="213.5" y="729.5"/><use href="#m" x="214.5" y="727.5"/><use href="#m" x="215.5" y="726.5"/><use href="#m" x="217.5" y="725.5"/><use href="#m" x="217.5" y="722.5"/><use href="#m" x="218.5" y="723.5"/><use href="#m" x="220.5" y="723.5"/><use href="#m" x="221.5" y="722.5"/><use href="#m" x="222.5" y="724.5"/><use href="#m" x="223.5" y="722.5"/><use href="#m" x="224.5" y="723.5"/><use href="#m" x="226.5" y="720.5"/><use href="#m" x="226.5" y="719.5"/><use href="#m" x="228.5" y="721.5"/><use href="#m" x="229.5" y="718.5"/><use href="#m" x="231.5" y="718.5"/><use href="#m" x="232.5" y="720.5"/><use href="#m" x="234.5" y="705.5"/><use href="#m" x="236.5" y="711.5"/><use href="#m" x="237.5" y="714.5"/><use href="#m" x="237.5" y="727.5"/><use href="#m" x="239.5" y="713.5"/><use href="#m" x="240.5" y="715.5"/><use href="#m" x="240.5" y="716.5"/><use href="#m" x="242.5" y="713.5"/><use href="#m" x="242.5" y="698.5"/><use href="#m" x="243.5" y="711.5"/><use href="#m" x="245.5" y="708.5"/><use href="#m" x="245.5" y="709.5"/><use href="#m" x="246.5" y="708.5"/><use href="#m" x="248.5" y="709.5"/><use href="#m" x="248.5" y="707.5"/><use href="#m" x="250.5" y="710.5"/><use href="#m" x="251.5" y="712.5"/><use href="#m" x="251.5" y="712.5"/><use href="#m" x="253.5" y="714.5"/><use href="#m" x="254.5" y="715.5"/><use href="#m" x="256.5" y="710.5"/><use href="#m" x="257.5" y="707.5"/><use href="#m" x="257.5" y="701.5"/><use href="#m" x="258.5" y="696.5"/><use href="#m" x="259.5" y="690.5"/><use href="#m" x="260.5" y="686.5"/><use href="#m" x="260.5" y="689.5"/><use href="#m" x="260.5" y="690.5"/><use href="#m" x="261.5" y="692.5"/><use href="#m" x="261.5" y="697.5"/><use href="#m" x="262.5" y="699.5"/><use href="#m" x="263.5" y="705.5"/><use href="#m" x="264.5" y="707.5"/><use href="#m" x="265.5" y="711.5"/><use href="#m" x="266.5" y="715.5"/><use href="#m" x="267.5" y="713.5"/><use href="#m" x="268.5" y="694.5"/><use href="#m" x="269.5" y="697.5"/><use href="#m" x="269.5" y="700.5"/><use href="#m" x="270.5" y="703.5"/><use href="#m" x="271.5" y="702.5"/><use href="#m" x="273.5" y="700.5"/><use href="#m" x="275.5" y="703.5"/><use href="#m" x="276.5" y="701.5"/><use href="#m" x="276.5" y="701.5"/><use href="#m" x="278.5" y="701.5"/><use href="#m" x="279.5" y="699.5"/><use href="#m" x="281.5" y="702.5"/><use href="#m" x="282.5" y="700.5"/><use href="#m" x="282.5" y="700.5"/><use href="#m" x="284.5" y="699.5"/><use href="#m" x="286.5" y="699.5"/><use href="#m" x="287.5" y="698.5"/><use href="#m" x="289.5" y="700.5"/><use href="#m" x="288.5" y="698.5"/><use href="#m" x="290.5" y="696.5"/><use href="#m" x="292.5" y="698.5"/><use href="#m" x="293.5" y="699.5"/><use href="#m" x="294.5" y="696.5"/><use href="#m" x="295.5" y="695.5"/><use href="#m" x="297.5" y="695.5"/><use href="#m" x="298.5" y="696.5"/><use href="#m" x="300.5" y="696.5"/><use href="#m" x="301.5" y="693.5"/><use href="#m" x="303.5" y="694.5"/><use href="#m" x="304.5" y="694.5"/><use href="#m" x="306.5" y="696.5"/><use href="#m" x="306.5" y="696.5"/><use href="#m" x="308.5" y="698.5"/><use href="#m" x="309.5" y="696.5"/><use href="#m" x="311.5" y="695.5"/><use href="#m" x="312.5" y="697.5"/><use href="#m" x="312.5" y="696.5"/><use href="#m" x="315.5" y="701.5"/><use href="#m" x="315.5" y="703.5"/><use href="#m" x="317.5" y="697.5"/><use href="#m" x="318.5" y="694.5"/><use href="#m" x="319.5" y="693.5"/><use href="#m" x="320.5" y="692.5"/><use href="#m" x="322.5" y="691.5"/><use href="#m" x="321.5" y="690.5"/><use href="#m" x="323.5" y="690.5"/><use href="#m" x="325.5" y="690.5"/><use href="#m" x="326.5" y="691.5"/><use href="#m" x="327.5" y="691.5"/><use href="#m" x="328.5" y="692.5"/><use href="#m" x="330.5" y="690.5"/><use href="#m" x="331.5" y="689.5"/><use href="#m" x="331.5" y="690.5"/><use href="#m" x="334.5" y="688.5"/><use href="#m" x="370.5" y="646.5"/><use href="#m" x="370.5" y="647.5"/><use href="#m" x="400.5" y="651.5"/><use href="#m" x="400.5" y="639.5"/><use href="#m" x="401.5" y="656.5"/><use href="#m" x="405.5" y="659.5"/><use href="#m" x="405.5" y="666.5"/><use href="#m" x="406.5" y="674.5"/><rect x="13.5" y="617.5" width="383" height="14" fill="#fff" stroke="#000" stroke-width="1"/><text x="203.6" y="627.95" text-anchor="middle" class="t">South Sta-1 Oct-4 Pedestals vrs Day (Packet 11039)</text></g>
<g><rect x="554.5" y="630.5" width="383" height="110" fill="none" stroke="#000" stroke-width="1"/><path d="M554.5 740.5V737M562.5 740.5V738M570.5 740.5V738M578.5 740.5V738M586.5 740.5V737M593.5 740.5V738M601.5 740.5V738M609.5 740.5V738M617.5 740.5V737M625.5 740.5V738M633.5 740.5V738M640.5 740.5V738M648.5 740.5V737M656.5 740.5V738M664.5 740.5V738M672.5 740.5V738M680.5 740.5V737M687.5 740.5V738M695.5 740.5V738M703.5 740.5V738M711.5 740.5V737M719.5 740.5V738M727.5 740.5V738M735.5 740.5V738M742.5 740.5V737M750.5 740.5V738M758.5 740.5V738M766.5 740.5V738M774.5 740.5V737M782.5 740.5V738M789.5 740.5V738M797.5 740.5V738M805.5 740.5V737M813.5 740.5V738M821.5 740.5V738M829.5 740.5V738M836.5 740.5V737M844.5 740.5V738M852.5 740.5V738M860.5 740.5V738M868.5 740.5V737M876.5 740.5V738M883.5 740.5V738M891.5 740.5V738M899.5 740.5V737M907.5 740.5V738M915.5 740.5V738M923.5 740.5V738M931.5 740.5V737M554.5 739.5H561M554.5 735.5H567M554.5 732.5H561M554.5 729.5H561M554.5 726.5H561M554.5 722.5H567M554.5 719.5H561M554.5 716.5H561M554.5 712.5H561M554.5 709.5H567M554.5 706.5H561M554.5 703.5H561M554.5 699.5H561M554.5 696.5H567M554.5 693.5H561M554.5 689.5H561M554.5 686.5H561M554.5 683.5H567M554.5 680.5H561M554.5 676.5H561M554.5 673.5H561M554.5 670.5H567M554.5 666.5H561M554.5 663.5H561M554.5 660.5H561M554.5 657.5H567M554.5 653.5H561M554.5 650.5H561M554.5 647.5H561M554.5 643.5H567M554.5 640.5H561M554.5 637.5H561M554.5 634.5H561M554.5 630.5H567" stroke="#000" stroke-width="1" fill="none"/><text x="552.1" y="738" text-anchor="end" class="l">1794</text><text x="552.1" y="724" text-anchor="end" class="l">1796</text><text x="552.1" y="711" text-anchor="end" class="l">1798</text><text x="552.1" y="698" text-anchor="end" class="l">1800</text><text x="552.1" y="685" text-anchor="end" class="l">1802</text><text x="552.1" y="672" text-anchor="end" class="l">1804</text><text x="552.1" y="659" text-anchor="end" class="l">1806</text><text x="552.1" y="646" text-anchor="end" class="l">1808</text><text x="552.1" y="632" text-anchor="end" class="l">1810</text><text x="553.7" y="749" text-anchor="middle" class="l">0</text><text x="585.06" y="749" text-anchor="middle" class="l">20</text><text x="616.42" y="749" text-anchor="middle" class="l">40</text><text x="647.78" y="749" text-anchor="middle" class="l">60</text><text x="679.14" y="749" text-anchor="middle" class="l">80</text><text x="710.5" y="749" text-anchor="middle" class="l">100</text><text x="741.86" y="749" text-anchor="middle" class="l">120</text><text x="773.22" y="749" text-anchor="middle" class="l">140</text><text x="804.58" y="749" text-anchor="middle" class="l">160</text><text x="835.94" y="749" text-anchor="middle" class="l">180</text><text x="867.3" y="749" text-anchor="middle" class="l">200</text><text x="898.66" y="749" text-anchor="middle" class="l">220</text><text x="930.02" y="749" text-anchor="middle" class="l">240</text><polyline points="561.5,683.5 569.5,681.5 581.5,677.5 586.5,677.5 600.5,690.5 602.5,690.5 611.5,699.5 613.5,707.5 616.5,702.5 617.5,705.5 617.5,721.5 619.5,707.5 621.5,712.5 621.5,707.5 622.5,718.5 623.5,720.5 624.5,720.5 625.5,718.5 627.5,718.5 627.5,718.5 628.5,714.5 630.5,705.5 630.5,703.5 632.5,709.5 633.5,709.5 635.5,713.5 636.5,715.5 638.5,713.5 639.5,713.5 640.5,714.5 642.5,708.5 644.5,715.5 646.5,716.5 647.5,715.5 649.5,713.5 650.5,713.5 650.5,713.5 652.5,709.5 653.5,707.5 655.5,708.5 656.5,720.5 657.5,709.5 658.5,710.5 660.5,715.5 660.5,712.5 661.5,713.5 661.5,731.5 663.5,718.5 664.5,720.5 665.5,718.5 666.5,718.5 668.5,719.5 668.5,719.5 671.5,713.5 672.5,707.5 674.5,706.5 675.5,707.5 677.5,709.5 679.5,710.5 680.5,710.5 682.5,712.5 682.5,712.5 683.5,711.5 685.5,709.5 686.5,708.5 686.5,709.5 688.5,710.5 690.5,710.5 689.5,698.5 691.5,713.5 692.5,711.5 693.5,714.5 694.5,716.5 696.5,716.5 697.5,719.5 697.5,719.5 699.5,716.5 701.5,713.5 701.5,713.5 704.5,717.5 705.5,718.5 707.5,718.5 708.5,721.5 711.5,727.5 712.5,725.5 713.5,726.5 715.5,723.5 715.5,719.5 716.5,720.5 718.5,718.5 719.5,717.5 720.5,718.5 721.5,720.5 722.5,719.5 724.5,718.5 725.5,717.5 726.5,717.5 727.5,719.5 729.5,715.5 730.5,717.5 732.5,714.5 732.5,695.5 733.5,709.5 734.5,708.5 735.5,728.5 736.5,723.5 738.5,712.5 740.5,710.5 740.5,694.5 741.5,710.5 743.5,707.5 743.5,705.5 744.5,704.5 746.5,705.5 746.5,703.5 748.5,708.5 749.5,711.5 749.5,711.5 751.5,710.5 752.5,709.5 754.5,708.5 755.5,702.5 755.5,698.5 756.5,692.5 757.5,688.5 758.5,680.5 758.5,682.5 758.5,685.5 758.5,686.5 759.5,691.5 760.5,697.5 761.5,697.5 762.5,703.5 763.5,707.5 764.5,707.5 765.5,708.5 766.5,693.5 767.5,699.5 768.5,699.5 769.5,701.5 771.5,698.5 773.5,699.5 774.5,700.5 776.5,696.5 777.5,697.5 779.5,697.5 780.5,695.5 782.5,698.5 782.5,696.5 784.5,698.5 785.5,697.5 787.5,694.5 788.5,693.5 790.5,693.5 791.5,695.5 792.5,696.5 793.5,694.5 795.5,698.5 796.5,696.5 796.5,697.5 798.5,695.5 799.5,694.5 800.5,690.5 801.5,691.5 801.5,704.5 802.5,694.5 803.5,693.5 804.5,692.5 806.5,692.5 807.5,692.5 809.5,693.5 808.5,691.5 810.5,694.5 812.5,694.5 813.5,695.5 815.5,697.5 817.5,697.5 816.5,696.5 819.5,688.5 821.5,691.5 823.5,689.5 824.5,689.5 825.5,689.5 826.5,689.5 828.5,688.5 829.5,688.5 829.5,689.5 832.5,687.5 868.5,646.5 868.5,651.5 898.5,652.5 898.5,639.5 900.5,656.5 903.5,669.5 903.5,671.5 904.5,683.5" fill="none" stroke="#00f" stroke-width="1" shape-rendering="crispEdges"/><use href="#m" x="561.5" y="683.5"/><use href="#m" x="569.5" y="681.5"/><use href="#m" x="581.5" y="677.5"/><use href="#m" x="586.5" y="677.5"/><use href="#m" x="600.5" y="690.5"/><use href="#m" x="602.5" y="690.5"/><use href="#m" x="611.5" y="699.5"/><use href="#m" x="613.5" y="707.5"/><use href="#m" x="616.5" y="702.5"/><use href="#m" x="617.5" y="705.5"/><use href="#m" x="617.5" y="721.5"/><use href="#m" x="619.5" y="707.5"/><use href="#m" x="621.5" y="712.5"/><use href="#m" x="621.5" y="707.5"/><use href="#m" x="622.5" y="718.5"/><use href="#m" x="623.5" y="720.5"/><use href="#m" x="624.5" y="720.5"/><use href="#m" x="625.5" y="718.5"/><use href="#m" x="627.5" y="718.5"/><use href="#m" x="627.5" y="718.5"/><use href="#m" x="628.5" y="714.5"/><use href="#m" x="630.5" y="705.5"/><use href="#m" x="630.5" y="703.5"/><use href="#m" x="632.5" y="709.5"/><use href="#m" x="633.5" y="709.5"/><use href="#m" x="635.5" y="713.5"/><use href="#m" x="636.5" y="715.5"/><use href="#m" x="638.5" y="713.5"/><use href="#m" x="639.5" y="713.5"/><use href="#m" x="640.5" y="714.5"/><use href="#m" x="642.5" y="708.5"/><use href="#m" x="644.5" y="715.5"/><use href="#m" x="646.5" y="716.5"/><use href="#m" x="647.5" y="715.5"/><use href="#m" x="649.5" y="713.5"/><use href="#m" x="650.5" y="713.5"/><use href="#m" x="650.5" y="713.5"/><use href="#m" x="652.5" y="709.5"/><use href="#m" x="653.5" y="707.5"/><use href="#m" x="655.5" y="708.5"/><use href="#m" x="656.5" y="720.5"/><use href="#m" x="657.5" y="709.5"/><use href="#m" x="658.5" y="710.5"/><use href="#m" x="660.5" y="715.5"/><use href="#m" x="660.5" y="712.5"/><use href="#m" x="661.5" y="713.5"/><use href="#m" x="661.5" y="731.5"/><use href="#m" x="663.5" y="718.5"/><use href="#m" x="664.5" y="720.5"/><use href="#m" x="665.5" y="718.5"/><use href="#m" x="666.5" y="718.5"/><use href="#m" x="668.5" y="719.5"/><use href="#m" x="668.5" y="719.5"/><use href="#m" x="671.5" y="713.5"/><use href="#m" x="672.5" y="707.5"/><use href="#m" x="674.5" y="706.5"/><use href="#m" x="675.5" y="707.5"/><use href="#m" x="677.5" y="709.5"/><use href="#m" x="679.5" y="710.5"/><use href="#m" x="680.5" y="710.5"/><use href="#m" x="682.5" y="712.5"/><use href="#m" x="682.5" y="712.5"/><use href="#m" x="683.5" y="711.5"/><use href="#m" x="685.5" y="709.5"/><use href="#m" x="686.5" y="708.5"/><use href="#m" x="686.5" y="709.5"/><use href="#m" x="688.5" y="710.5"/><use href="#m" x="690.5" y="710.5"/><use href="#m" x="689.5" y="698.5"/><use href="#m" x="691.5" y="713.5"/><use href="#m" x="692.5" y="711.5"/><use href="#m" x="693.5" y="714.5"/><use href="#m" x="694.5" y="716.5"/><use href="#m" x="696.5" y="716.5"/><use href="#m" x="697.5" y="719.5"/><use href="#m" x="697.5" y="719.5"/><use href="#m" x="699.5" y="716.5"/><use href="#m" x="701.5" y="713.5"/><use href="#m" x="701.5" y="713.5"/><use href="#m" x="704.5" y="717.5"/><use href="#m" x="705.5" y="718.5"/><use href="#m" x="707.5" y="718.5"/><use href="#m" x="708.5" y="721.5"/><use href="#m" x="711.5" y="727.5"/><use href="#m" x="712.5" y="725.5"/><use href="#m" x="713.5" y="726.5"/><use href="#m" x="715.5" y="723.5"/><use href="#m" x="715.5" y="719.5"/><use href="#m" x="716.5" y="720.5"/><use href="#m" x="718.5" y="718.5"/><use href="#m" x="719.5" y="717.5"/><use href="#m" x="720.5" y="718.5"/><use href="#m" x="721.5" y="720.5"/><use href="#m" x="722.5" y="719.5"/><use href="#m" x="724.5" y="718.5"/><use href="#m" x="725.5" y="717.5"/><use href="#m" x="726.5" y="717.5"/><use href="#m" x="727.5" y="719.5"/><use href="#m" x="729.5" y="715.5"/><use href="#m" x="730.5" y="717.5"/><use href="#m" x="732.5" y="714.5"/><use href="#m" x="732.5" y="695.5"/><use href="#m" x="733.5" y="709.5"/><use href="#m" x="734.5" y="708.5"/><use href="#m" x="735.5" y="728.5"/><use href="#m" x="736.5" y="723.5"/><use href="#m" x="738.5" y="712.5"/><use href="#m" x="740.5" y="710.5"/><use href="#m" x="740.5" y="694.5"/><use href="#m" x="741.5" y="710.5"/><use href="#m" x="743.5" y="707.5"/><use href="#m" x="743.5" y="705.5"/><use href="#m" x="744.5" y="704.5"/><use href="#m" x="746.5" y="705.5"/><use href="#m" x="746.5" y="703.5"/><use href="#m" x="748.5" y="708.5"/><use href="#m" x="749.5" y="711.5"/><use href="#m" x="749.5" y="711.5"/><use href="#m" x="751.5" y="710.5"/><use href="#m" x="752.5" y="709.5"/><use href="#m" x="754.5" y="708.5"/><use href="#m" x="755.5" y="702.5"/><use href="#m" x="755.5" y="698.5"/><use href="#m" x="756.5" y="692.5"/><use href="#m" x="757.5" y="688.5"/><use href="#m" x="758.5" y="680.5"/><use href="#m" x="758.5" y="682.5"/><use href="#m" x="758.5" y="685.5"/><use href="#m" x="758.5" y="686.5"/><use href="#m" x="759.5" y="691.5"/><use href="#m" x="760.5" y="697.5"/><use href="#m" x="761.5" y="697.5"/><use href="#m" x="762.5" y="703.5"/><use href="#m" x="763.5" y="707.5"/><use href="#m" x="764.5" y="707.5"/><use href="#m" x="765.5" y="708.5"/><use href="#m" x="766.5" y="693.5"/><use href="#m" x="767.5" y="699.5"/><use href="#m" x="768.5" y="699.5"/><use href="#m" x="769.5" y="701.5"/><use href="#m" x="771.5" y="698.5"/><use href="#m" x="773.5" y="699.5"/><use href="#m" x="774.5" y="700.5"/><use href="#m" x="776.5" y="696.5"/><use href="#m" x="777.5" y="697.5"/><use href="#m" x="779.5" y="697.5"/><use href="#m" x="780.5" y="695.5"/><use href="#m" x="782.5" y="698.5"/><use href="#m" x="782.5" y="696.5"/><use href="#m" x="784.5" y="698.5"/><use href="#m" x="785.5" y="697.5"/><use href="#m" x="787.5" y="694.5"/><use href="#m" x="788.5" y="693.5"/><use href="#m" x="790.5" y="693.5"/><use href="#m" x="791.5" y="695.5"/><use href="#m" x="792.5" y="696.5"/><use href="#m" x="793.5" y="694.5"/><use href="#m" x="795.5" y="698.5"/><use href="#m" x="796.5" y="696.5"/><use href="#m" x="796.5" y="697.5"/><use href="#m" x="798.5" y="695.5"/><use href="#m" x="799.5" y="694.5"/><use href="#m" x="800.5" y="690.5"/><use href="#m" x="801.5" y="691.5"/><use href="#m" x="801.5" y="704.5"/><use href="#m" x="802.5" y="694.5"/><use href="#m" x="803.5" y="693.5"/><use href="#m" x="804.5" y="692.5"/><use href="#m" x="806.5" y="692.5"/><use href="#m" x="807.5" y="692.5"/><use href="#m" x="809.5" y="693.5"/><use href="#m" x="808.5" y="691.5"/><use href="#m" x="810.5" y="694.5"/><use href="#m" x="812.5" y="694.5"/><use href="#m" x="813.5" y="695.5"/><use href="#m" x="815.5" y="697.5"/><use href="#m" x="817.5" y="697.5"/><use href="#m" x="816.5" y="696.5"/><use href="#m" x="819.5" y="688.5"/><use href="#m" x="821.5" y="691.5"/><use href="#m" x="823.5" y="689.5"/><use href="#m" x="824.5" y="689.5"/><use href="#m" x="825.5" y="689.5"/><use href="#m" x="826.5" y="689.5"/><use href="#m" x="828.5" y="688.5"/><use href="#m" x="829.5" y="688.5"/><use href="#m" x="829.5" y="689.5"/><use href="#m" x="832.5" y="687.5"/><use href="#m" x="868.5" y="646.5"/><use href="#m" x="868.5" y="651.5"/><use href="#m" x="898.5" y="652.5"/><use href="#m" x="898.5" y="639.5"/><use href="#m" x="900.5" y="656.5"/><use href="#m" x="903.5" y="669.5"/><use href="#m" x="903.5" y="671.5"/><use href="#m" x="904.5" y="683.5"/><rect x="511.5" y="617.5" width="383" height="14" fill="#fff" stroke="#000" stroke-width="1"/><text x="701.6" y="627.95" text-anchor="middle" class="t">South Sta-1 Oct-4 Pedestals vrs Day (Packet 11040)</text></g>
</svg>
</body></html>
